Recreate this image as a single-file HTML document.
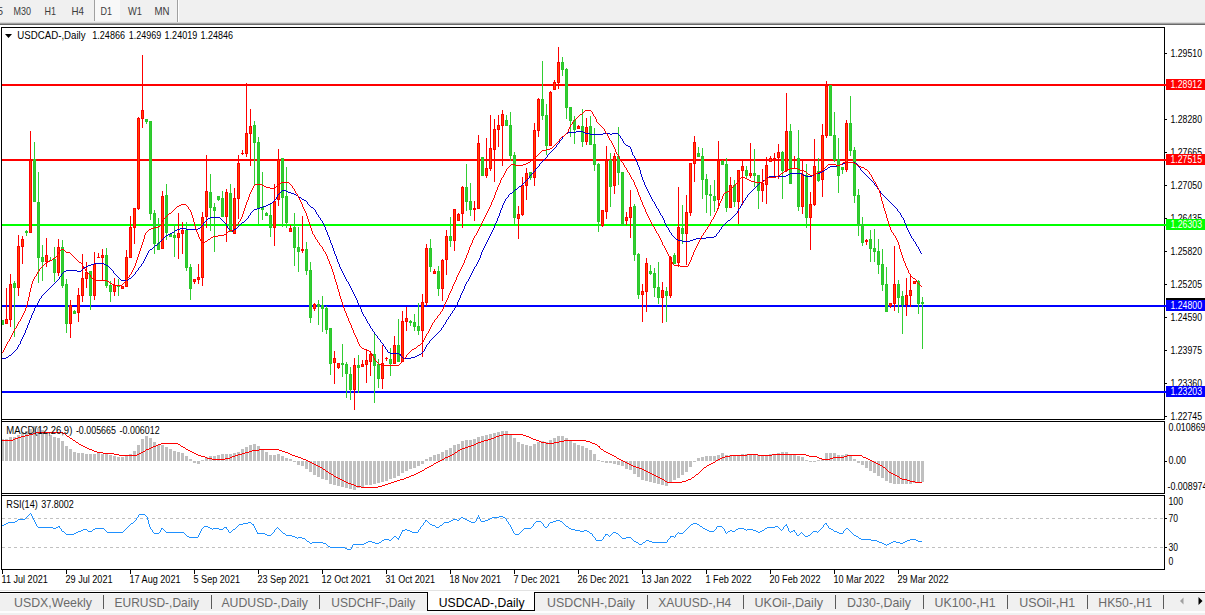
<!DOCTYPE html><html><head><meta charset="utf-8"><title>USDCAD-,Daily</title>
<style>html,body{margin:0;padding:0;background:#fff;overflow:hidden}svg{display:block}text{font-family:"Liberation Sans",sans-serif}</style>
</head><body>
<svg width="1205" height="615" viewBox="0 0 1205 615">
<rect width="1205" height="615" fill="#fff"/>
<g shape-rendering="crispEdges">
<rect x="0" y="0" width="1205" height="23" fill="#f0f0f0"/>
<rect x="0" y="22" width="1205" height="1" fill="#d9d9d9"/>
<rect x="0" y="23" width="1205" height="1" fill="#a0a0a0"/>
<rect x="0" y="24" width="1205" height="1" fill="#696969"/>
<rect x="95" y="0" width="25" height="21" fill="#f8f8f8"/>
<rect x="94" y="0" width="1" height="21" fill="#a0a0a0"/>
<rect x="177" y="0" width="1" height="22" fill="#a0a0a0"/>
<rect x="178" y="0" width="1" height="22" fill="#ffffff"/>
</g>
<text x="-2.5" y="15.2" font-size="10.5" fill="#3c3c3c" text-anchor="start" textLength="5.5" lengthAdjust="spacingAndGlyphs">5</text>
<text x="13.5" y="15.2" font-size="10.5" fill="#3c3c3c" text-anchor="start" textLength="17.5" lengthAdjust="spacingAndGlyphs">M30</text>
<text x="44.5" y="15.2" font-size="10.5" fill="#3c3c3c" text-anchor="start" textLength="11.5" lengthAdjust="spacingAndGlyphs">H1</text>
<text x="71.5" y="15.2" font-size="10.5" fill="#3c3c3c" text-anchor="start" textLength="12.5" lengthAdjust="spacingAndGlyphs">H4</text>
<text x="100.5" y="15.2" font-size="10.5" fill="#3c3c3c" text-anchor="start" textLength="11.5" lengthAdjust="spacingAndGlyphs">D1</text>
<text x="128" y="15.2" font-size="10.5" fill="#3c3c3c" text-anchor="start" textLength="14" lengthAdjust="spacingAndGlyphs">W1</text>
<text x="154.5" y="15.2" font-size="10.5" fill="#3c3c3c" text-anchor="start" textLength="15" lengthAdjust="spacingAndGlyphs">MN</text>
<g shape-rendering="crispEdges" fill="#000">
<rect x="1" y="27" width="1164" height="1"/>
<rect x="1" y="27" width="1" height="543"/>
<rect x="1164" y="27" width="1" height="543"/>
<rect x="1" y="419" width="1164" height="1"/>
<rect x="1" y="420" width="1164" height="1" fill="#fff"/>
<rect x="1" y="421" width="1164" height="1"/>
<rect x="1" y="493" width="1164" height="1"/>
<rect x="1" y="494" width="1164" height="1" fill="#fff"/>
<rect x="1" y="495" width="1164" height="1"/>
<rect x="1" y="569" width="1164" height="1"/>
</g>
<g shape-rendering="crispEdges">
<rect x="2" y="84" width="1164" height="2" fill="#ff0000"/>
<rect x="2" y="159" width="1164" height="2" fill="#ff0000"/>
<rect x="2" y="224" width="1164" height="2" fill="#00ff00"/>
<rect x="2" y="305" width="1164" height="2" fill="#0000ff"/>
<rect x="2" y="391" width="1164" height="2" fill="#0000ff"/>
</g>
<g shape-rendering="crispEdges" stroke="#c0c0c0" stroke-width="1" stroke-dasharray="3,3">
<line x1="2" y1="518.5" x2="1164" y2="518.5"/>
<line x1="2" y1="547.5" x2="1164" y2="547.5"/>
</g>
<g shape-rendering="crispEdges" fill="#c0c0c0">
<rect x="1" y="439" width="3" height="22"/>
<rect x="5" y="439" width="3" height="22"/>
<rect x="9" y="437" width="3" height="24"/>
<rect x="13" y="437" width="3" height="24"/>
<rect x="17" y="435" width="3" height="26"/>
<rect x="21" y="432" width="3" height="29"/>
<rect x="25" y="431" width="3" height="30"/>
<rect x="29" y="429" width="3" height="32"/>
<rect x="33" y="426" width="3" height="35"/>
<rect x="37" y="428" width="3" height="33"/>
<rect x="41" y="430" width="3" height="31"/>
<rect x="45" y="432" width="3" height="29"/>
<rect x="49" y="435" width="3" height="26"/>
<rect x="53" y="437" width="3" height="24"/>
<rect x="57" y="438" width="3" height="23"/>
<rect x="61" y="441" width="3" height="20"/>
<rect x="65" y="446" width="3" height="15"/>
<rect x="69" y="449" width="3" height="12"/>
<rect x="73" y="452" width="3" height="9"/>
<rect x="77" y="453" width="3" height="8"/>
<rect x="81" y="453" width="3" height="8"/>
<rect x="85" y="454" width="3" height="7"/>
<rect x="89" y="454" width="3" height="7"/>
<rect x="93" y="454" width="3" height="7"/>
<rect x="97" y="453" width="3" height="8"/>
<rect x="101" y="454" width="3" height="7"/>
<rect x="105" y="454" width="3" height="7"/>
<rect x="109" y="455" width="3" height="6"/>
<rect x="113" y="456" width="3" height="5"/>
<rect x="117" y="457" width="3" height="4"/>
<rect x="121" y="457" width="3" height="4"/>
<rect x="125" y="456" width="3" height="5"/>
<rect x="129" y="454" width="3" height="7"/>
<rect x="133" y="451" width="3" height="10"/>
<rect x="137" y="445" width="3" height="16"/>
<rect x="141" y="439" width="3" height="22"/>
<rect x="145" y="436" width="3" height="25"/>
<rect x="149" y="438" width="3" height="23"/>
<rect x="153" y="442" width="3" height="19"/>
<rect x="157" y="445" width="3" height="16"/>
<rect x="161" y="445" width="3" height="16"/>
<rect x="165" y="447" width="3" height="14"/>
<rect x="169" y="449" width="3" height="12"/>
<rect x="173" y="451" width="3" height="10"/>
<rect x="177" y="452" width="3" height="9"/>
<rect x="181" y="453" width="3" height="8"/>
<rect x="185" y="456" width="3" height="5"/>
<rect x="189" y="459" width="3" height="2"/>
<rect x="193" y="461" width="3" height="2"/>
<rect x="197" y="461" width="3" height="3"/>
<rect x="201" y="460" width="3" height="1"/>
<rect x="205" y="457" width="3" height="4"/>
<rect x="209" y="456" width="3" height="5"/>
<rect x="213" y="456" width="3" height="5"/>
<rect x="217" y="455" width="3" height="6"/>
<rect x="221" y="454" width="3" height="7"/>
<rect x="225" y="454" width="3" height="7"/>
<rect x="229" y="454" width="3" height="7"/>
<rect x="233" y="453" width="3" height="8"/>
<rect x="237" y="452" width="3" height="9"/>
<rect x="241" y="449" width="3" height="12"/>
<rect x="245" y="447" width="3" height="14"/>
<rect x="249" y="445" width="3" height="16"/>
<rect x="253" y="444" width="3" height="17"/>
<rect x="257" y="446" width="3" height="15"/>
<rect x="261" y="450" width="3" height="11"/>
<rect x="265" y="452" width="3" height="9"/>
<rect x="269" y="455" width="3" height="6"/>
<rect x="273" y="455" width="3" height="6"/>
<rect x="277" y="454" width="3" height="7"/>
<rect x="281" y="456" width="3" height="5"/>
<rect x="285" y="458" width="3" height="3"/>
<rect x="289" y="459" width="3" height="2"/>
<rect x="293" y="461" width="3" height="1"/>
<rect x="297" y="461" width="3" height="4"/>
<rect x="301" y="461" width="3" height="5"/>
<rect x="305" y="461" width="3" height="8"/>
<rect x="309" y="461" width="3" height="11"/>
<rect x="313" y="461" width="3" height="14"/>
<rect x="317" y="461" width="3" height="16"/>
<rect x="321" y="461" width="3" height="18"/>
<rect x="325" y="461" width="3" height="19"/>
<rect x="329" y="461" width="3" height="23"/>
<rect x="333" y="461" width="3" height="24"/>
<rect x="337" y="461" width="3" height="25"/>
<rect x="341" y="461" width="3" height="26"/>
<rect x="345" y="461" width="3" height="27"/>
<rect x="349" y="461" width="3" height="28"/>
<rect x="353" y="461" width="3" height="29"/>
<rect x="357" y="461" width="3" height="27"/>
<rect x="361" y="461" width="3" height="26"/>
<rect x="365" y="461" width="3" height="24"/>
<rect x="369" y="461" width="3" height="24"/>
<rect x="373" y="461" width="3" height="23"/>
<rect x="377" y="461" width="3" height="22"/>
<rect x="381" y="461" width="3" height="21"/>
<rect x="385" y="461" width="3" height="20"/>
<rect x="389" y="461" width="3" height="18"/>
<rect x="393" y="461" width="3" height="17"/>
<rect x="397" y="461" width="3" height="15"/>
<rect x="401" y="461" width="3" height="12"/>
<rect x="405" y="461" width="3" height="10"/>
<rect x="409" y="461" width="3" height="8"/>
<rect x="413" y="461" width="3" height="7"/>
<rect x="417" y="461" width="3" height="5"/>
<rect x="421" y="461" width="3" height="3"/>
<rect x="425" y="459" width="3" height="2"/>
<rect x="429" y="457" width="3" height="4"/>
<rect x="433" y="455" width="3" height="6"/>
<rect x="437" y="454" width="3" height="7"/>
<rect x="441" y="452" width="3" height="9"/>
<rect x="445" y="450" width="3" height="11"/>
<rect x="449" y="448" width="3" height="13"/>
<rect x="453" y="445" width="3" height="16"/>
<rect x="457" y="444" width="3" height="17"/>
<rect x="461" y="441" width="3" height="20"/>
<rect x="465" y="440" width="3" height="21"/>
<rect x="469" y="440" width="3" height="21"/>
<rect x="473" y="439" width="3" height="22"/>
<rect x="477" y="437" width="3" height="24"/>
<rect x="481" y="436" width="3" height="25"/>
<rect x="485" y="435" width="3" height="26"/>
<rect x="489" y="434" width="3" height="27"/>
<rect x="493" y="433" width="3" height="28"/>
<rect x="497" y="432" width="3" height="29"/>
<rect x="501" y="431" width="3" height="30"/>
<rect x="505" y="431" width="3" height="30"/>
<rect x="509" y="434" width="3" height="27"/>
<rect x="513" y="438" width="3" height="23"/>
<rect x="517" y="442" width="3" height="19"/>
<rect x="521" y="444" width="3" height="17"/>
<rect x="525" y="445" width="3" height="16"/>
<rect x="529" y="446" width="3" height="15"/>
<rect x="533" y="444" width="3" height="17"/>
<rect x="537" y="442" width="3" height="19"/>
<rect x="541" y="441" width="3" height="20"/>
<rect x="545" y="442" width="3" height="19"/>
<rect x="549" y="440" width="3" height="21"/>
<rect x="553" y="438" width="3" height="23"/>
<rect x="557" y="436" width="3" height="25"/>
<rect x="561" y="436" width="3" height="25"/>
<rect x="565" y="438" width="3" height="23"/>
<rect x="569" y="441" width="3" height="20"/>
<rect x="573" y="443" width="3" height="18"/>
<rect x="577" y="445" width="3" height="16"/>
<rect x="581" y="446" width="3" height="15"/>
<rect x="585" y="448" width="3" height="13"/>
<rect x="589" y="450" width="3" height="11"/>
<rect x="593" y="454" width="3" height="7"/>
<rect x="597" y="460" width="3" height="1"/>
<rect x="601" y="461" width="3" height="1"/>
<rect x="605" y="461" width="3" height="2"/>
<rect x="609" y="461" width="3" height="2"/>
<rect x="613" y="461" width="3" height="3"/>
<rect x="617" y="461" width="3" height="4"/>
<rect x="621" y="461" width="3" height="5"/>
<rect x="625" y="461" width="3" height="8"/>
<rect x="629" y="461" width="3" height="9"/>
<rect x="633" y="461" width="3" height="13"/>
<rect x="637" y="461" width="3" height="16"/>
<rect x="641" y="461" width="3" height="19"/>
<rect x="645" y="461" width="3" height="20"/>
<rect x="649" y="461" width="3" height="21"/>
<rect x="653" y="461" width="3" height="22"/>
<rect x="657" y="461" width="3" height="23"/>
<rect x="661" y="461" width="3" height="24"/>
<rect x="665" y="461" width="3" height="25"/>
<rect x="669" y="461" width="3" height="21"/>
<rect x="673" y="461" width="3" height="19"/>
<rect x="677" y="461" width="3" height="17"/>
<rect x="681" y="461" width="3" height="14"/>
<rect x="685" y="461" width="3" height="11"/>
<rect x="689" y="461" width="3" height="6"/>
<rect x="693" y="461" width="3" height="1"/>
<rect x="697" y="458" width="3" height="3"/>
<rect x="701" y="457" width="3" height="4"/>
<rect x="705" y="456" width="3" height="5"/>
<rect x="709" y="456" width="3" height="5"/>
<rect x="713" y="456" width="3" height="5"/>
<rect x="717" y="455" width="3" height="6"/>
<rect x="721" y="453" width="3" height="8"/>
<rect x="725" y="455" width="3" height="6"/>
<rect x="729" y="455" width="3" height="6"/>
<rect x="733" y="455" width="3" height="6"/>
<rect x="737" y="455" width="3" height="6"/>
<rect x="741" y="454" width="3" height="7"/>
<rect x="745" y="454" width="3" height="7"/>
<rect x="749" y="454" width="3" height="7"/>
<rect x="753" y="454" width="3" height="7"/>
<rect x="757" y="455" width="3" height="6"/>
<rect x="761" y="455" width="3" height="6"/>
<rect x="765" y="455" width="3" height="6"/>
<rect x="769" y="454" width="3" height="7"/>
<rect x="773" y="454" width="3" height="7"/>
<rect x="777" y="453" width="3" height="8"/>
<rect x="781" y="452" width="3" height="9"/>
<rect x="785" y="452" width="3" height="9"/>
<rect x="789" y="454" width="3" height="7"/>
<rect x="793" y="455" width="3" height="6"/>
<rect x="797" y="456" width="3" height="5"/>
<rect x="801" y="457" width="3" height="4"/>
<rect x="805" y="460" width="3" height="1"/>
<rect x="809" y="461" width="3" height="1"/>
<rect x="813" y="461" width="3" height="1"/>
<rect x="817" y="460" width="3" height="1"/>
<rect x="821" y="459" width="3" height="2"/>
<rect x="825" y="453" width="3" height="8"/>
<rect x="829" y="453" width="3" height="8"/>
<rect x="833" y="453" width="3" height="8"/>
<rect x="837" y="455" width="3" height="6"/>
<rect x="841" y="455" width="3" height="6"/>
<rect x="845" y="454" width="3" height="7"/>
<rect x="849" y="455" width="3" height="6"/>
<rect x="853" y="459" width="3" height="2"/>
<rect x="857" y="461" width="3" height="2"/>
<rect x="861" y="461" width="3" height="4"/>
<rect x="865" y="461" width="3" height="7"/>
<rect x="869" y="461" width="3" height="10"/>
<rect x="873" y="461" width="3" height="12"/>
<rect x="877" y="461" width="3" height="15"/>
<rect x="881" y="461" width="3" height="17"/>
<rect x="885" y="461" width="3" height="20"/>
<rect x="889" y="461" width="3" height="22"/>
<rect x="893" y="461" width="3" height="23"/>
<rect x="897" y="461" width="3" height="23"/>
<rect x="901" y="461" width="3" height="23"/>
<rect x="905" y="461" width="3" height="23"/>
<rect x="909" y="461" width="3" height="23"/>
<rect x="913" y="461" width="3" height="22"/>
<rect x="917" y="461" width="3" height="21"/>
<rect x="921" y="461" width="3" height="21"/>
</g>
<g shape-rendering="crispEdges">
<rect x="2" y="320" width="1" height="5" fill="#32cd32"/>
<rect x="1" y="320" width="3" height="5" fill="#2ac82a"/>
<rect x="2" y="321" width="1" height="3" fill="#32cd32"/>
<rect x="6" y="288" width="1" height="36" fill="#ff0000"/>
<rect x="5" y="319" width="3" height="5" fill="#ff0000"/>
<rect x="6" y="320" width="1" height="3" fill="#ff4500"/>
<rect x="10" y="274" width="1" height="53" fill="#ff0000"/>
<rect x="9" y="284" width="3" height="36" fill="#ff0000"/>
<rect x="10" y="285" width="1" height="34" fill="#ff4500"/>
<rect x="14" y="281" width="1" height="56" fill="#32cd32"/>
<rect x="13" y="283" width="3" height="5" fill="#2ac82a"/>
<rect x="14" y="284" width="1" height="3" fill="#32cd32"/>
<rect x="18" y="235" width="1" height="61" fill="#ff0000"/>
<rect x="17" y="246" width="3" height="42" fill="#ff0000"/>
<rect x="18" y="247" width="1" height="40" fill="#ff4500"/>
<rect x="22" y="236" width="1" height="28" fill="#ff0000"/>
<rect x="21" y="239" width="3" height="8" fill="#ff0000"/>
<rect x="22" y="240" width="1" height="6" fill="#ff4500"/>
<rect x="26" y="230" width="1" height="6" fill="#32cd32"/>
<rect x="25" y="231" width="3" height="2" fill="#2ac82a"/>
<rect x="30" y="131" width="1" height="102" fill="#ff0000"/>
<rect x="29" y="160" width="3" height="73" fill="#ff0000"/>
<rect x="30" y="161" width="1" height="71" fill="#ff4500"/>
<rect x="34" y="142" width="1" height="60" fill="#32cd32"/>
<rect x="33" y="159" width="3" height="43" fill="#2ac82a"/>
<rect x="34" y="160" width="1" height="41" fill="#32cd32"/>
<rect x="38" y="172" width="1" height="111" fill="#32cd32"/>
<rect x="37" y="202" width="3" height="56" fill="#2ac82a"/>
<rect x="38" y="203" width="1" height="54" fill="#32cd32"/>
<rect x="42" y="245" width="1" height="36" fill="#32cd32"/>
<rect x="41" y="257" width="3" height="5" fill="#2ac82a"/>
<rect x="42" y="258" width="1" height="3" fill="#32cd32"/>
<rect x="46" y="238" width="1" height="29" fill="#ff0000"/>
<rect x="45" y="255" width="3" height="7" fill="#ff0000"/>
<rect x="46" y="256" width="1" height="5" fill="#ff4500"/>
<rect x="50" y="257" width="1" height="4" fill="#32cd32"/>
<rect x="49" y="260" width="3" height="1" fill="#2ac82a"/>
<rect x="54" y="247" width="1" height="35" fill="#32cd32"/>
<rect x="53" y="259" width="3" height="14" fill="#2ac82a"/>
<rect x="54" y="260" width="1" height="12" fill="#32cd32"/>
<rect x="58" y="239" width="1" height="37" fill="#ff0000"/>
<rect x="57" y="247" width="3" height="26" fill="#ff0000"/>
<rect x="58" y="248" width="1" height="24" fill="#ff4500"/>
<rect x="62" y="240" width="1" height="48" fill="#32cd32"/>
<rect x="61" y="247" width="3" height="39" fill="#2ac82a"/>
<rect x="62" y="248" width="1" height="37" fill="#32cd32"/>
<rect x="66" y="279" width="1" height="54" fill="#32cd32"/>
<rect x="65" y="284" width="3" height="40" fill="#2ac82a"/>
<rect x="66" y="285" width="1" height="38" fill="#32cd32"/>
<rect x="70" y="300" width="1" height="38" fill="#ff0000"/>
<rect x="69" y="305" width="3" height="19" fill="#ff0000"/>
<rect x="70" y="306" width="1" height="17" fill="#ff4500"/>
<rect x="74" y="310" width="1" height="4" fill="#32cd32"/>
<rect x="73" y="311" width="3" height="3" fill="#2ac82a"/>
<rect x="74" y="312" width="1" height="1" fill="#32cd32"/>
<rect x="78" y="288" width="1" height="34" fill="#ff0000"/>
<rect x="77" y="295" width="3" height="18" fill="#ff0000"/>
<rect x="78" y="296" width="1" height="16" fill="#ff4500"/>
<rect x="82" y="254" width="1" height="48" fill="#ff0000"/>
<rect x="81" y="278" width="3" height="18" fill="#ff0000"/>
<rect x="82" y="279" width="1" height="16" fill="#ff4500"/>
<rect x="86" y="262" width="1" height="26" fill="#ff0000"/>
<rect x="85" y="272" width="3" height="7" fill="#ff0000"/>
<rect x="86" y="273" width="1" height="5" fill="#ff4500"/>
<rect x="90" y="271" width="1" height="39" fill="#32cd32"/>
<rect x="89" y="271" width="3" height="25" fill="#2ac82a"/>
<rect x="90" y="272" width="1" height="23" fill="#32cd32"/>
<rect x="94" y="252" width="1" height="48" fill="#ff0000"/>
<rect x="93" y="264" width="3" height="32" fill="#ff0000"/>
<rect x="94" y="265" width="1" height="30" fill="#ff4500"/>
<rect x="98" y="253" width="1" height="5" fill="#ff0000"/>
<rect x="97" y="257" width="3" height="1" fill="#ff0000"/>
<rect x="102" y="249" width="1" height="31" fill="#ff0000"/>
<rect x="101" y="255" width="3" height="3" fill="#ff0000"/>
<rect x="102" y="256" width="1" height="1" fill="#ff4500"/>
<rect x="106" y="248" width="1" height="40" fill="#32cd32"/>
<rect x="105" y="255" width="3" height="31" fill="#2ac82a"/>
<rect x="106" y="256" width="1" height="29" fill="#32cd32"/>
<rect x="110" y="281" width="1" height="21" fill="#32cd32"/>
<rect x="109" y="285" width="3" height="7" fill="#2ac82a"/>
<rect x="110" y="286" width="1" height="5" fill="#32cd32"/>
<rect x="114" y="278" width="1" height="18" fill="#ff0000"/>
<rect x="113" y="285" width="3" height="7" fill="#ff0000"/>
<rect x="114" y="286" width="1" height="5" fill="#ff4500"/>
<rect x="118" y="279" width="1" height="17" fill="#32cd32"/>
<rect x="117" y="285" width="3" height="2" fill="#2ac82a"/>
<rect x="122" y="286" width="1" height="3" fill="#ff0000"/>
<rect x="121" y="286" width="3" height="3" fill="#ff0000"/>
<rect x="122" y="287" width="1" height="1" fill="#ff4500"/>
<rect x="126" y="250" width="1" height="37" fill="#ff0000"/>
<rect x="125" y="257" width="3" height="30" fill="#ff0000"/>
<rect x="126" y="258" width="1" height="28" fill="#ff4500"/>
<rect x="130" y="216" width="1" height="42" fill="#ff0000"/>
<rect x="129" y="227" width="3" height="31" fill="#ff0000"/>
<rect x="130" y="228" width="1" height="29" fill="#ff4500"/>
<rect x="134" y="208" width="1" height="36" fill="#ff0000"/>
<rect x="133" y="208" width="3" height="20" fill="#ff0000"/>
<rect x="134" y="209" width="1" height="18" fill="#ff4500"/>
<rect x="138" y="117" width="1" height="93" fill="#ff0000"/>
<rect x="137" y="118" width="3" height="91" fill="#ff0000"/>
<rect x="138" y="119" width="1" height="89" fill="#ff4500"/>
<rect x="142" y="55" width="1" height="73" fill="#ff0000"/>
<rect x="141" y="110" width="3" height="9" fill="#ff0000"/>
<rect x="142" y="111" width="1" height="7" fill="#ff4500"/>
<rect x="146" y="119" width="1" height="5" fill="#32cd32"/>
<rect x="145" y="119" width="3" height="3" fill="#2ac82a"/>
<rect x="146" y="120" width="1" height="1" fill="#32cd32"/>
<rect x="150" y="121" width="1" height="99" fill="#32cd32"/>
<rect x="149" y="121" width="3" height="93" fill="#2ac82a"/>
<rect x="150" y="122" width="1" height="91" fill="#32cd32"/>
<rect x="154" y="210" width="1" height="44" fill="#32cd32"/>
<rect x="153" y="213" width="3" height="31" fill="#2ac82a"/>
<rect x="154" y="214" width="1" height="29" fill="#32cd32"/>
<rect x="158" y="218" width="1" height="32" fill="#32cd32"/>
<rect x="157" y="243" width="3" height="7" fill="#2ac82a"/>
<rect x="158" y="244" width="1" height="5" fill="#32cd32"/>
<rect x="162" y="191" width="1" height="58" fill="#ff0000"/>
<rect x="161" y="196" width="3" height="53" fill="#ff0000"/>
<rect x="162" y="197" width="1" height="51" fill="#ff4500"/>
<rect x="166" y="184" width="1" height="56" fill="#32cd32"/>
<rect x="165" y="195" width="3" height="38" fill="#2ac82a"/>
<rect x="166" y="196" width="1" height="36" fill="#32cd32"/>
<rect x="170" y="234" width="1" height="3" fill="#32cd32"/>
<rect x="169" y="234" width="3" height="3" fill="#2ac82a"/>
<rect x="170" y="235" width="1" height="1" fill="#32cd32"/>
<rect x="174" y="224" width="1" height="33" fill="#32cd32"/>
<rect x="173" y="235" width="3" height="3" fill="#2ac82a"/>
<rect x="174" y="236" width="1" height="1" fill="#32cd32"/>
<rect x="178" y="213" width="1" height="46" fill="#ff0000"/>
<rect x="177" y="233" width="3" height="5" fill="#ff0000"/>
<rect x="178" y="234" width="1" height="3" fill="#ff4500"/>
<rect x="182" y="222" width="1" height="32" fill="#ff0000"/>
<rect x="181" y="230" width="3" height="4" fill="#ff0000"/>
<rect x="182" y="231" width="1" height="2" fill="#ff4500"/>
<rect x="186" y="222" width="1" height="49" fill="#32cd32"/>
<rect x="185" y="230" width="3" height="38" fill="#2ac82a"/>
<rect x="186" y="231" width="1" height="36" fill="#32cd32"/>
<rect x="190" y="264" width="1" height="36" fill="#32cd32"/>
<rect x="189" y="267" width="3" height="22" fill="#2ac82a"/>
<rect x="190" y="268" width="1" height="20" fill="#32cd32"/>
<rect x="194" y="279" width="1" height="5" fill="#ff0000"/>
<rect x="193" y="279" width="3" height="3" fill="#ff0000"/>
<rect x="194" y="280" width="1" height="1" fill="#ff4500"/>
<rect x="198" y="264" width="1" height="20" fill="#ff0000"/>
<rect x="197" y="277" width="3" height="3" fill="#ff0000"/>
<rect x="198" y="278" width="1" height="1" fill="#ff4500"/>
<rect x="202" y="212" width="1" height="74" fill="#ff0000"/>
<rect x="201" y="217" width="3" height="61" fill="#ff0000"/>
<rect x="202" y="218" width="1" height="59" fill="#ff4500"/>
<rect x="206" y="155" width="1" height="73" fill="#ff0000"/>
<rect x="205" y="191" width="3" height="26" fill="#ff0000"/>
<rect x="206" y="192" width="1" height="24" fill="#ff4500"/>
<rect x="210" y="174" width="1" height="57" fill="#32cd32"/>
<rect x="209" y="192" width="3" height="16" fill="#2ac82a"/>
<rect x="210" y="193" width="1" height="14" fill="#32cd32"/>
<rect x="214" y="203" width="1" height="49" fill="#32cd32"/>
<rect x="213" y="207" width="3" height="4" fill="#2ac82a"/>
<rect x="214" y="208" width="1" height="2" fill="#32cd32"/>
<rect x="218" y="196" width="1" height="5" fill="#32cd32"/>
<rect x="217" y="196" width="3" height="4" fill="#2ac82a"/>
<rect x="218" y="197" width="1" height="2" fill="#32cd32"/>
<rect x="222" y="191" width="1" height="26" fill="#32cd32"/>
<rect x="221" y="198" width="3" height="19" fill="#2ac82a"/>
<rect x="222" y="199" width="1" height="17" fill="#32cd32"/>
<rect x="226" y="189" width="1" height="53" fill="#ff0000"/>
<rect x="225" y="192" width="3" height="25" fill="#ff0000"/>
<rect x="226" y="193" width="1" height="23" fill="#ff4500"/>
<rect x="230" y="184" width="1" height="48" fill="#32cd32"/>
<rect x="229" y="193" width="3" height="39" fill="#2ac82a"/>
<rect x="230" y="194" width="1" height="37" fill="#32cd32"/>
<rect x="234" y="188" width="1" height="46" fill="#ff0000"/>
<rect x="233" y="198" width="3" height="36" fill="#ff0000"/>
<rect x="234" y="199" width="1" height="34" fill="#ff4500"/>
<rect x="238" y="155" width="1" height="64" fill="#ff0000"/>
<rect x="237" y="163" width="3" height="36" fill="#ff0000"/>
<rect x="238" y="164" width="1" height="34" fill="#ff4500"/>
<rect x="242" y="150" width="1" height="5" fill="#ff0000"/>
<rect x="241" y="153" width="3" height="1" fill="#ff0000"/>
<rect x="246" y="83" width="1" height="74" fill="#ff0000"/>
<rect x="245" y="133" width="3" height="21" fill="#ff0000"/>
<rect x="246" y="134" width="1" height="19" fill="#ff4500"/>
<rect x="250" y="109" width="1" height="57" fill="#ff0000"/>
<rect x="249" y="126" width="3" height="8" fill="#ff0000"/>
<rect x="250" y="127" width="1" height="6" fill="#ff4500"/>
<rect x="254" y="121" width="1" height="64" fill="#32cd32"/>
<rect x="253" y="125" width="3" height="18" fill="#2ac82a"/>
<rect x="254" y="126" width="1" height="16" fill="#32cd32"/>
<rect x="258" y="137" width="1" height="87" fill="#32cd32"/>
<rect x="257" y="142" width="3" height="67" fill="#2ac82a"/>
<rect x="258" y="143" width="1" height="65" fill="#32cd32"/>
<rect x="262" y="172" width="1" height="48" fill="#32cd32"/>
<rect x="261" y="207" width="3" height="3" fill="#2ac82a"/>
<rect x="262" y="208" width="1" height="1" fill="#32cd32"/>
<rect x="266" y="212" width="1" height="4" fill="#32cd32"/>
<rect x="265" y="213" width="3" height="3" fill="#2ac82a"/>
<rect x="266" y="214" width="1" height="1" fill="#32cd32"/>
<rect x="270" y="204" width="1" height="33" fill="#32cd32"/>
<rect x="269" y="215" width="3" height="13" fill="#2ac82a"/>
<rect x="270" y="216" width="1" height="11" fill="#32cd32"/>
<rect x="274" y="184" width="1" height="62" fill="#ff0000"/>
<rect x="273" y="201" width="3" height="27" fill="#ff0000"/>
<rect x="274" y="202" width="1" height="25" fill="#ff4500"/>
<rect x="278" y="149" width="1" height="57" fill="#ff0000"/>
<rect x="277" y="159" width="3" height="41" fill="#ff0000"/>
<rect x="278" y="160" width="1" height="39" fill="#ff4500"/>
<rect x="282" y="158" width="1" height="69" fill="#32cd32"/>
<rect x="281" y="158" width="3" height="40" fill="#2ac82a"/>
<rect x="282" y="159" width="1" height="38" fill="#32cd32"/>
<rect x="286" y="167" width="1" height="61" fill="#32cd32"/>
<rect x="285" y="196" width="3" height="27" fill="#2ac82a"/>
<rect x="286" y="197" width="1" height="25" fill="#32cd32"/>
<rect x="290" y="225" width="1" height="7" fill="#ff0000"/>
<rect x="289" y="228" width="3" height="4" fill="#ff0000"/>
<rect x="290" y="229" width="1" height="2" fill="#ff4500"/>
<rect x="294" y="213" width="1" height="53" fill="#32cd32"/>
<rect x="293" y="227" width="3" height="21" fill="#2ac82a"/>
<rect x="294" y="228" width="1" height="19" fill="#32cd32"/>
<rect x="298" y="227" width="1" height="45" fill="#32cd32"/>
<rect x="297" y="247" width="3" height="5" fill="#2ac82a"/>
<rect x="298" y="248" width="1" height="3" fill="#32cd32"/>
<rect x="302" y="216" width="1" height="37" fill="#ff0000"/>
<rect x="301" y="249" width="3" height="2" fill="#ff0000"/>
<rect x="306" y="242" width="1" height="33" fill="#32cd32"/>
<rect x="305" y="249" width="3" height="22" fill="#2ac82a"/>
<rect x="306" y="250" width="1" height="20" fill="#32cd32"/>
<rect x="310" y="262" width="1" height="61" fill="#32cd32"/>
<rect x="309" y="270" width="3" height="48" fill="#2ac82a"/>
<rect x="310" y="271" width="1" height="46" fill="#32cd32"/>
<rect x="314" y="303" width="1" height="8" fill="#ff0000"/>
<rect x="313" y="304" width="3" height="5" fill="#ff0000"/>
<rect x="314" y="305" width="1" height="3" fill="#ff4500"/>
<rect x="318" y="300" width="1" height="25" fill="#32cd32"/>
<rect x="317" y="304" width="3" height="3" fill="#2ac82a"/>
<rect x="318" y="305" width="1" height="1" fill="#32cd32"/>
<rect x="322" y="296" width="1" height="36" fill="#32cd32"/>
<rect x="321" y="305" width="3" height="4" fill="#2ac82a"/>
<rect x="322" y="306" width="1" height="2" fill="#32cd32"/>
<rect x="326" y="306" width="1" height="28" fill="#32cd32"/>
<rect x="325" y="308" width="3" height="22" fill="#2ac82a"/>
<rect x="326" y="309" width="1" height="20" fill="#32cd32"/>
<rect x="330" y="328" width="1" height="47" fill="#32cd32"/>
<rect x="329" y="328" width="3" height="36" fill="#2ac82a"/>
<rect x="330" y="329" width="1" height="34" fill="#32cd32"/>
<rect x="334" y="351" width="1" height="33" fill="#ff0000"/>
<rect x="333" y="358" width="3" height="5" fill="#ff0000"/>
<rect x="334" y="359" width="1" height="3" fill="#ff4500"/>
<rect x="338" y="363" width="1" height="6" fill="#ff0000"/>
<rect x="337" y="363" width="3" height="5" fill="#ff0000"/>
<rect x="338" y="364" width="1" height="3" fill="#ff4500"/>
<rect x="342" y="344" width="1" height="33" fill="#32cd32"/>
<rect x="341" y="363" width="3" height="2" fill="#2ac82a"/>
<rect x="346" y="362" width="1" height="36" fill="#32cd32"/>
<rect x="345" y="364" width="3" height="10" fill="#2ac82a"/>
<rect x="346" y="365" width="1" height="8" fill="#32cd32"/>
<rect x="350" y="367" width="1" height="33" fill="#32cd32"/>
<rect x="349" y="374" width="3" height="16" fill="#2ac82a"/>
<rect x="350" y="375" width="1" height="14" fill="#32cd32"/>
<rect x="354" y="358" width="1" height="52" fill="#ff0000"/>
<rect x="353" y="365" width="3" height="25" fill="#ff0000"/>
<rect x="354" y="366" width="1" height="23" fill="#ff4500"/>
<rect x="358" y="355" width="1" height="38" fill="#32cd32"/>
<rect x="357" y="365" width="3" height="3" fill="#2ac82a"/>
<rect x="358" y="366" width="1" height="1" fill="#32cd32"/>
<rect x="362" y="360" width="1" height="7" fill="#ff0000"/>
<rect x="361" y="364" width="3" height="3" fill="#ff0000"/>
<rect x="362" y="365" width="1" height="1" fill="#ff4500"/>
<rect x="366" y="349" width="1" height="34" fill="#ff0000"/>
<rect x="365" y="360" width="3" height="5" fill="#ff0000"/>
<rect x="366" y="361" width="1" height="3" fill="#ff4500"/>
<rect x="370" y="351" width="1" height="25" fill="#ff0000"/>
<rect x="369" y="354" width="3" height="8" fill="#ff0000"/>
<rect x="370" y="355" width="1" height="6" fill="#ff4500"/>
<rect x="374" y="332" width="1" height="71" fill="#32cd32"/>
<rect x="373" y="354" width="3" height="12" fill="#2ac82a"/>
<rect x="374" y="355" width="1" height="10" fill="#32cd32"/>
<rect x="378" y="359" width="1" height="29" fill="#32cd32"/>
<rect x="377" y="364" width="3" height="15" fill="#2ac82a"/>
<rect x="378" y="365" width="1" height="13" fill="#32cd32"/>
<rect x="382" y="345" width="1" height="44" fill="#ff0000"/>
<rect x="381" y="363" width="3" height="16" fill="#ff0000"/>
<rect x="382" y="364" width="1" height="14" fill="#ff4500"/>
<rect x="386" y="357" width="1" height="4" fill="#ff0000"/>
<rect x="385" y="358" width="3" height="1" fill="#ff0000"/>
<rect x="390" y="348" width="1" height="28" fill="#32cd32"/>
<rect x="389" y="359" width="3" height="5" fill="#2ac82a"/>
<rect x="390" y="360" width="1" height="3" fill="#32cd32"/>
<rect x="394" y="336" width="1" height="28" fill="#ff0000"/>
<rect x="393" y="345" width="3" height="19" fill="#ff0000"/>
<rect x="394" y="346" width="1" height="17" fill="#ff4500"/>
<rect x="398" y="319" width="1" height="43" fill="#32cd32"/>
<rect x="397" y="345" width="3" height="17" fill="#2ac82a"/>
<rect x="398" y="346" width="1" height="15" fill="#32cd32"/>
<rect x="402" y="311" width="1" height="51" fill="#ff0000"/>
<rect x="401" y="321" width="3" height="41" fill="#ff0000"/>
<rect x="402" y="322" width="1" height="39" fill="#ff4500"/>
<rect x="406" y="307" width="1" height="24" fill="#ff0000"/>
<rect x="405" y="318" width="3" height="4" fill="#ff0000"/>
<rect x="406" y="319" width="1" height="2" fill="#ff4500"/>
<rect x="410" y="320" width="1" height="6" fill="#32cd32"/>
<rect x="409" y="321" width="3" height="2" fill="#2ac82a"/>
<rect x="414" y="314" width="1" height="17" fill="#32cd32"/>
<rect x="413" y="322" width="3" height="5" fill="#2ac82a"/>
<rect x="414" y="323" width="1" height="3" fill="#32cd32"/>
<rect x="418" y="303" width="1" height="32" fill="#32cd32"/>
<rect x="417" y="326" width="3" height="5" fill="#2ac82a"/>
<rect x="418" y="327" width="1" height="3" fill="#32cd32"/>
<rect x="422" y="294" width="1" height="63" fill="#ff0000"/>
<rect x="421" y="302" width="3" height="29" fill="#ff0000"/>
<rect x="422" y="303" width="1" height="27" fill="#ff4500"/>
<rect x="426" y="244" width="1" height="62" fill="#ff0000"/>
<rect x="425" y="248" width="3" height="55" fill="#ff0000"/>
<rect x="426" y="249" width="1" height="53" fill="#ff4500"/>
<rect x="430" y="239" width="1" height="33" fill="#32cd32"/>
<rect x="429" y="248" width="3" height="19" fill="#2ac82a"/>
<rect x="430" y="249" width="1" height="17" fill="#32cd32"/>
<rect x="434" y="269" width="1" height="5" fill="#ff0000"/>
<rect x="433" y="271" width="3" height="3" fill="#ff0000"/>
<rect x="434" y="272" width="1" height="1" fill="#ff4500"/>
<rect x="438" y="266" width="1" height="30" fill="#32cd32"/>
<rect x="437" y="271" width="3" height="18" fill="#2ac82a"/>
<rect x="438" y="272" width="1" height="16" fill="#32cd32"/>
<rect x="442" y="259" width="1" height="42" fill="#ff0000"/>
<rect x="441" y="260" width="3" height="29" fill="#ff0000"/>
<rect x="442" y="261" width="1" height="27" fill="#ff4500"/>
<rect x="446" y="230" width="1" height="45" fill="#ff0000"/>
<rect x="445" y="236" width="3" height="24" fill="#ff0000"/>
<rect x="446" y="237" width="1" height="22" fill="#ff4500"/>
<rect x="450" y="217" width="1" height="30" fill="#32cd32"/>
<rect x="449" y="236" width="3" height="5" fill="#2ac82a"/>
<rect x="450" y="237" width="1" height="3" fill="#32cd32"/>
<rect x="454" y="209" width="1" height="42" fill="#ff0000"/>
<rect x="453" y="209" width="3" height="32" fill="#ff0000"/>
<rect x="454" y="210" width="1" height="30" fill="#ff4500"/>
<rect x="458" y="213" width="1" height="8" fill="#ff0000"/>
<rect x="457" y="214" width="3" height="7" fill="#ff0000"/>
<rect x="458" y="215" width="1" height="5" fill="#ff4500"/>
<rect x="462" y="186" width="1" height="42" fill="#ff0000"/>
<rect x="461" y="187" width="3" height="27" fill="#ff0000"/>
<rect x="462" y="188" width="1" height="25" fill="#ff4500"/>
<rect x="466" y="164" width="1" height="47" fill="#32cd32"/>
<rect x="465" y="187" width="3" height="15" fill="#2ac82a"/>
<rect x="466" y="188" width="1" height="13" fill="#32cd32"/>
<rect x="470" y="183" width="1" height="33" fill="#32cd32"/>
<rect x="469" y="201" width="3" height="9" fill="#2ac82a"/>
<rect x="470" y="202" width="1" height="7" fill="#32cd32"/>
<rect x="474" y="201" width="1" height="20" fill="#ff0000"/>
<rect x="473" y="208" width="3" height="2" fill="#ff0000"/>
<rect x="478" y="135" width="1" height="74" fill="#ff0000"/>
<rect x="477" y="143" width="3" height="66" fill="#ff0000"/>
<rect x="478" y="144" width="1" height="64" fill="#ff4500"/>
<rect x="482" y="157" width="1" height="19" fill="#32cd32"/>
<rect x="481" y="157" width="3" height="19" fill="#2ac82a"/>
<rect x="482" y="158" width="1" height="17" fill="#32cd32"/>
<rect x="486" y="138" width="1" height="40" fill="#ff0000"/>
<rect x="485" y="168" width="3" height="8" fill="#ff0000"/>
<rect x="486" y="169" width="1" height="6" fill="#ff4500"/>
<rect x="490" y="115" width="1" height="56" fill="#ff0000"/>
<rect x="489" y="148" width="3" height="21" fill="#ff0000"/>
<rect x="490" y="149" width="1" height="19" fill="#ff4500"/>
<rect x="494" y="119" width="1" height="63" fill="#ff0000"/>
<rect x="493" y="129" width="3" height="21" fill="#ff0000"/>
<rect x="494" y="130" width="1" height="19" fill="#ff4500"/>
<rect x="498" y="115" width="1" height="32" fill="#ff0000"/>
<rect x="497" y="125" width="3" height="5" fill="#ff0000"/>
<rect x="498" y="126" width="1" height="3" fill="#ff4500"/>
<rect x="502" y="110" width="1" height="56" fill="#ff0000"/>
<rect x="501" y="114" width="3" height="12" fill="#ff0000"/>
<rect x="502" y="115" width="1" height="10" fill="#ff4500"/>
<rect x="506" y="115" width="1" height="11" fill="#32cd32"/>
<rect x="505" y="120" width="3" height="6" fill="#2ac82a"/>
<rect x="506" y="121" width="1" height="4" fill="#32cd32"/>
<rect x="510" y="112" width="1" height="49" fill="#32cd32"/>
<rect x="509" y="125" width="3" height="31" fill="#2ac82a"/>
<rect x="510" y="126" width="1" height="29" fill="#32cd32"/>
<rect x="514" y="152" width="1" height="72" fill="#32cd32"/>
<rect x="513" y="155" width="3" height="63" fill="#2ac82a"/>
<rect x="514" y="156" width="1" height="61" fill="#32cd32"/>
<rect x="518" y="206" width="1" height="33" fill="#ff0000"/>
<rect x="517" y="214" width="3" height="5" fill="#ff0000"/>
<rect x="518" y="215" width="1" height="3" fill="#ff4500"/>
<rect x="522" y="177" width="1" height="39" fill="#ff0000"/>
<rect x="521" y="185" width="3" height="30" fill="#ff0000"/>
<rect x="522" y="186" width="1" height="28" fill="#ff4500"/>
<rect x="526" y="168" width="1" height="32" fill="#ff0000"/>
<rect x="525" y="173" width="3" height="13" fill="#ff0000"/>
<rect x="526" y="174" width="1" height="11" fill="#ff4500"/>
<rect x="530" y="172" width="1" height="8" fill="#32cd32"/>
<rect x="529" y="172" width="3" height="6" fill="#2ac82a"/>
<rect x="530" y="173" width="1" height="4" fill="#32cd32"/>
<rect x="534" y="123" width="1" height="63" fill="#ff0000"/>
<rect x="533" y="130" width="3" height="48" fill="#ff0000"/>
<rect x="534" y="131" width="1" height="46" fill="#ff4500"/>
<rect x="538" y="98" width="1" height="39" fill="#ff0000"/>
<rect x="537" y="99" width="3" height="32" fill="#ff0000"/>
<rect x="538" y="100" width="1" height="30" fill="#ff4500"/>
<rect x="542" y="61" width="1" height="59" fill="#32cd32"/>
<rect x="541" y="99" width="3" height="17" fill="#2ac82a"/>
<rect x="542" y="100" width="1" height="15" fill="#32cd32"/>
<rect x="546" y="104" width="1" height="51" fill="#32cd32"/>
<rect x="545" y="115" width="3" height="31" fill="#2ac82a"/>
<rect x="546" y="116" width="1" height="29" fill="#32cd32"/>
<rect x="550" y="91" width="1" height="55" fill="#ff0000"/>
<rect x="549" y="92" width="3" height="54" fill="#ff0000"/>
<rect x="550" y="93" width="1" height="52" fill="#ff4500"/>
<rect x="554" y="80" width="1" height="10" fill="#ff0000"/>
<rect x="553" y="82" width="3" height="8" fill="#ff0000"/>
<rect x="554" y="83" width="1" height="6" fill="#ff4500"/>
<rect x="558" y="47" width="1" height="42" fill="#ff0000"/>
<rect x="557" y="62" width="3" height="21" fill="#ff0000"/>
<rect x="558" y="63" width="1" height="19" fill="#ff4500"/>
<rect x="562" y="57" width="1" height="19" fill="#32cd32"/>
<rect x="561" y="62" width="3" height="8" fill="#2ac82a"/>
<rect x="562" y="63" width="1" height="6" fill="#32cd32"/>
<rect x="566" y="68" width="1" height="51" fill="#32cd32"/>
<rect x="565" y="69" width="3" height="39" fill="#2ac82a"/>
<rect x="566" y="70" width="1" height="37" fill="#32cd32"/>
<rect x="570" y="107" width="1" height="30" fill="#32cd32"/>
<rect x="569" y="107" width="3" height="14" fill="#2ac82a"/>
<rect x="570" y="108" width="1" height="12" fill="#32cd32"/>
<rect x="574" y="116" width="1" height="28" fill="#32cd32"/>
<rect x="573" y="120" width="3" height="10" fill="#2ac82a"/>
<rect x="574" y="121" width="1" height="8" fill="#32cd32"/>
<rect x="578" y="125" width="1" height="4" fill="#ff0000"/>
<rect x="577" y="126" width="3" height="3" fill="#ff0000"/>
<rect x="578" y="127" width="1" height="1" fill="#ff4500"/>
<rect x="582" y="109" width="1" height="38" fill="#32cd32"/>
<rect x="581" y="126" width="3" height="16" fill="#2ac82a"/>
<rect x="582" y="127" width="1" height="14" fill="#32cd32"/>
<rect x="586" y="118" width="1" height="27" fill="#ff0000"/>
<rect x="585" y="127" width="3" height="15" fill="#ff0000"/>
<rect x="586" y="128" width="1" height="13" fill="#ff4500"/>
<rect x="590" y="116" width="1" height="29" fill="#32cd32"/>
<rect x="589" y="126" width="3" height="19" fill="#2ac82a"/>
<rect x="590" y="127" width="1" height="17" fill="#32cd32"/>
<rect x="594" y="128" width="1" height="43" fill="#32cd32"/>
<rect x="593" y="144" width="3" height="21" fill="#2ac82a"/>
<rect x="594" y="145" width="1" height="19" fill="#32cd32"/>
<rect x="598" y="163" width="1" height="69" fill="#32cd32"/>
<rect x="597" y="164" width="3" height="58" fill="#2ac82a"/>
<rect x="598" y="165" width="1" height="56" fill="#32cd32"/>
<rect x="602" y="210" width="1" height="17" fill="#ff0000"/>
<rect x="601" y="210" width="3" height="16" fill="#ff0000"/>
<rect x="602" y="211" width="1" height="14" fill="#ff4500"/>
<rect x="606" y="146" width="1" height="73" fill="#ff0000"/>
<rect x="605" y="160" width="3" height="52" fill="#ff0000"/>
<rect x="606" y="161" width="1" height="50" fill="#ff4500"/>
<rect x="610" y="153" width="1" height="54" fill="#32cd32"/>
<rect x="609" y="160" width="3" height="27" fill="#2ac82a"/>
<rect x="610" y="161" width="1" height="25" fill="#32cd32"/>
<rect x="614" y="153" width="1" height="41" fill="#ff0000"/>
<rect x="613" y="156" width="3" height="30" fill="#ff0000"/>
<rect x="614" y="157" width="1" height="28" fill="#ff4500"/>
<rect x="618" y="127" width="1" height="58" fill="#32cd32"/>
<rect x="617" y="156" width="3" height="17" fill="#2ac82a"/>
<rect x="618" y="157" width="1" height="15" fill="#32cd32"/>
<rect x="622" y="172" width="1" height="53" fill="#32cd32"/>
<rect x="621" y="172" width="3" height="53" fill="#2ac82a"/>
<rect x="622" y="173" width="1" height="51" fill="#32cd32"/>
<rect x="626" y="212" width="1" height="13" fill="#ff0000"/>
<rect x="625" y="217" width="3" height="4" fill="#ff0000"/>
<rect x="626" y="218" width="1" height="2" fill="#ff4500"/>
<rect x="630" y="190" width="1" height="48" fill="#ff0000"/>
<rect x="629" y="207" width="3" height="11" fill="#ff0000"/>
<rect x="630" y="208" width="1" height="9" fill="#ff4500"/>
<rect x="634" y="204" width="1" height="57" fill="#32cd32"/>
<rect x="633" y="206" width="3" height="49" fill="#2ac82a"/>
<rect x="634" y="207" width="1" height="47" fill="#32cd32"/>
<rect x="638" y="253" width="1" height="46" fill="#32cd32"/>
<rect x="637" y="254" width="3" height="41" fill="#2ac82a"/>
<rect x="638" y="255" width="1" height="39" fill="#32cd32"/>
<rect x="642" y="284" width="1" height="38" fill="#ff0000"/>
<rect x="641" y="291" width="3" height="4" fill="#ff0000"/>
<rect x="642" y="292" width="1" height="2" fill="#ff4500"/>
<rect x="646" y="258" width="1" height="54" fill="#ff0000"/>
<rect x="645" y="263" width="3" height="29" fill="#ff0000"/>
<rect x="646" y="264" width="1" height="27" fill="#ff4500"/>
<rect x="650" y="265" width="1" height="10" fill="#32cd32"/>
<rect x="649" y="271" width="3" height="3" fill="#2ac82a"/>
<rect x="650" y="272" width="1" height="1" fill="#32cd32"/>
<rect x="654" y="268" width="1" height="29" fill="#32cd32"/>
<rect x="653" y="273" width="3" height="15" fill="#2ac82a"/>
<rect x="654" y="274" width="1" height="13" fill="#32cd32"/>
<rect x="658" y="262" width="1" height="42" fill="#32cd32"/>
<rect x="657" y="287" width="3" height="11" fill="#2ac82a"/>
<rect x="658" y="288" width="1" height="9" fill="#32cd32"/>
<rect x="662" y="282" width="1" height="41" fill="#ff0000"/>
<rect x="661" y="290" width="3" height="8" fill="#ff0000"/>
<rect x="662" y="291" width="1" height="6" fill="#ff4500"/>
<rect x="666" y="287" width="1" height="35" fill="#32cd32"/>
<rect x="665" y="291" width="3" height="5" fill="#2ac82a"/>
<rect x="666" y="292" width="1" height="3" fill="#32cd32"/>
<rect x="670" y="256" width="1" height="42" fill="#ff0000"/>
<rect x="669" y="257" width="3" height="39" fill="#ff0000"/>
<rect x="670" y="258" width="1" height="37" fill="#ff4500"/>
<rect x="674" y="253" width="1" height="11" fill="#32cd32"/>
<rect x="673" y="255" width="3" height="9" fill="#2ac82a"/>
<rect x="674" y="256" width="1" height="7" fill="#32cd32"/>
<rect x="678" y="187" width="1" height="80" fill="#ff0000"/>
<rect x="677" y="227" width="3" height="36" fill="#ff0000"/>
<rect x="678" y="228" width="1" height="34" fill="#ff4500"/>
<rect x="682" y="205" width="1" height="39" fill="#32cd32"/>
<rect x="681" y="228" width="3" height="6" fill="#2ac82a"/>
<rect x="682" y="229" width="1" height="4" fill="#32cd32"/>
<rect x="686" y="195" width="1" height="70" fill="#ff0000"/>
<rect x="685" y="212" width="3" height="22" fill="#ff0000"/>
<rect x="686" y="213" width="1" height="20" fill="#ff4500"/>
<rect x="690" y="163" width="1" height="53" fill="#ff0000"/>
<rect x="689" y="163" width="3" height="50" fill="#ff0000"/>
<rect x="690" y="164" width="1" height="48" fill="#ff4500"/>
<rect x="694" y="136" width="1" height="46" fill="#ff0000"/>
<rect x="693" y="142" width="3" height="22" fill="#ff0000"/>
<rect x="694" y="143" width="1" height="20" fill="#ff4500"/>
<rect x="698" y="147" width="1" height="10" fill="#32cd32"/>
<rect x="697" y="153" width="3" height="4" fill="#2ac82a"/>
<rect x="698" y="154" width="1" height="2" fill="#32cd32"/>
<rect x="702" y="148" width="1" height="51" fill="#32cd32"/>
<rect x="701" y="156" width="3" height="24" fill="#2ac82a"/>
<rect x="702" y="157" width="1" height="22" fill="#32cd32"/>
<rect x="706" y="174" width="1" height="39" fill="#32cd32"/>
<rect x="705" y="179" width="3" height="16" fill="#2ac82a"/>
<rect x="706" y="180" width="1" height="14" fill="#32cd32"/>
<rect x="710" y="185" width="1" height="31" fill="#32cd32"/>
<rect x="709" y="194" width="3" height="2" fill="#2ac82a"/>
<rect x="714" y="180" width="1" height="32" fill="#32cd32"/>
<rect x="713" y="196" width="3" height="5" fill="#2ac82a"/>
<rect x="714" y="197" width="1" height="3" fill="#32cd32"/>
<rect x="718" y="141" width="1" height="68" fill="#ff0000"/>
<rect x="717" y="160" width="3" height="40" fill="#ff0000"/>
<rect x="718" y="161" width="1" height="38" fill="#ff4500"/>
<rect x="722" y="160" width="1" height="5" fill="#32cd32"/>
<rect x="721" y="161" width="3" height="4" fill="#2ac82a"/>
<rect x="722" y="162" width="1" height="2" fill="#32cd32"/>
<rect x="726" y="158" width="1" height="54" fill="#32cd32"/>
<rect x="725" y="164" width="3" height="44" fill="#2ac82a"/>
<rect x="726" y="165" width="1" height="42" fill="#32cd32"/>
<rect x="730" y="177" width="1" height="31" fill="#ff0000"/>
<rect x="729" y="185" width="3" height="23" fill="#ff0000"/>
<rect x="730" y="186" width="1" height="21" fill="#ff4500"/>
<rect x="734" y="180" width="1" height="27" fill="#32cd32"/>
<rect x="733" y="185" width="3" height="17" fill="#2ac82a"/>
<rect x="734" y="186" width="1" height="15" fill="#32cd32"/>
<rect x="738" y="170" width="1" height="54" fill="#ff0000"/>
<rect x="737" y="170" width="3" height="32" fill="#ff0000"/>
<rect x="738" y="171" width="1" height="30" fill="#ff4500"/>
<rect x="742" y="161" width="1" height="44" fill="#ff0000"/>
<rect x="741" y="166" width="3" height="5" fill="#ff0000"/>
<rect x="742" y="167" width="1" height="3" fill="#ff4500"/>
<rect x="746" y="166" width="1" height="12" fill="#32cd32"/>
<rect x="745" y="170" width="3" height="6" fill="#2ac82a"/>
<rect x="746" y="171" width="1" height="4" fill="#32cd32"/>
<rect x="750" y="143" width="1" height="35" fill="#ff0000"/>
<rect x="749" y="173" width="3" height="3" fill="#ff0000"/>
<rect x="750" y="174" width="1" height="1" fill="#ff4500"/>
<rect x="754" y="149" width="1" height="38" fill="#32cd32"/>
<rect x="753" y="173" width="3" height="3" fill="#2ac82a"/>
<rect x="754" y="174" width="1" height="1" fill="#32cd32"/>
<rect x="758" y="175" width="1" height="34" fill="#32cd32"/>
<rect x="757" y="175" width="3" height="16" fill="#2ac82a"/>
<rect x="758" y="176" width="1" height="14" fill="#32cd32"/>
<rect x="762" y="169" width="1" height="33" fill="#ff0000"/>
<rect x="761" y="183" width="3" height="8" fill="#ff0000"/>
<rect x="762" y="184" width="1" height="6" fill="#ff4500"/>
<rect x="766" y="157" width="1" height="47" fill="#ff0000"/>
<rect x="765" y="165" width="3" height="20" fill="#ff0000"/>
<rect x="766" y="166" width="1" height="18" fill="#ff4500"/>
<rect x="770" y="156" width="1" height="6" fill="#ff0000"/>
<rect x="769" y="158" width="3" height="4" fill="#ff0000"/>
<rect x="770" y="159" width="1" height="2" fill="#ff4500"/>
<rect x="774" y="153" width="1" height="25" fill="#ff0000"/>
<rect x="773" y="158" width="3" height="2" fill="#ff0000"/>
<rect x="778" y="144" width="1" height="35" fill="#ff0000"/>
<rect x="777" y="152" width="3" height="6" fill="#ff0000"/>
<rect x="778" y="153" width="1" height="4" fill="#ff4500"/>
<rect x="782" y="151" width="1" height="48" fill="#32cd32"/>
<rect x="781" y="152" width="3" height="19" fill="#2ac82a"/>
<rect x="782" y="153" width="1" height="17" fill="#32cd32"/>
<rect x="786" y="93" width="1" height="79" fill="#ff0000"/>
<rect x="785" y="131" width="3" height="40" fill="#ff0000"/>
<rect x="786" y="132" width="1" height="38" fill="#ff4500"/>
<rect x="790" y="124" width="1" height="60" fill="#32cd32"/>
<rect x="789" y="131" width="3" height="53" fill="#2ac82a"/>
<rect x="790" y="132" width="1" height="51" fill="#32cd32"/>
<rect x="794" y="156" width="1" height="12" fill="#ff0000"/>
<rect x="793" y="159" width="3" height="2" fill="#ff0000"/>
<rect x="798" y="130" width="1" height="81" fill="#32cd32"/>
<rect x="797" y="158" width="3" height="49" fill="#2ac82a"/>
<rect x="798" y="159" width="1" height="47" fill="#32cd32"/>
<rect x="802" y="161" width="1" height="53" fill="#ff0000"/>
<rect x="801" y="174" width="3" height="33" fill="#ff0000"/>
<rect x="802" y="175" width="1" height="31" fill="#ff4500"/>
<rect x="806" y="164" width="1" height="64" fill="#32cd32"/>
<rect x="805" y="175" width="3" height="43" fill="#2ac82a"/>
<rect x="806" y="176" width="1" height="41" fill="#32cd32"/>
<rect x="810" y="192" width="1" height="58" fill="#ff0000"/>
<rect x="809" y="204" width="3" height="14" fill="#ff0000"/>
<rect x="810" y="205" width="1" height="12" fill="#ff4500"/>
<rect x="814" y="139" width="1" height="67" fill="#ff0000"/>
<rect x="813" y="166" width="3" height="39" fill="#ff0000"/>
<rect x="814" y="167" width="1" height="37" fill="#ff4500"/>
<rect x="818" y="158" width="1" height="24" fill="#32cd32"/>
<rect x="817" y="171" width="3" height="10" fill="#2ac82a"/>
<rect x="818" y="172" width="1" height="8" fill="#32cd32"/>
<rect x="822" y="124" width="1" height="73" fill="#ff0000"/>
<rect x="821" y="135" width="3" height="45" fill="#ff0000"/>
<rect x="822" y="136" width="1" height="43" fill="#ff4500"/>
<rect x="826" y="81" width="1" height="57" fill="#ff0000"/>
<rect x="825" y="86" width="3" height="50" fill="#ff0000"/>
<rect x="826" y="87" width="1" height="48" fill="#ff4500"/>
<rect x="830" y="85" width="1" height="51" fill="#32cd32"/>
<rect x="829" y="85" width="3" height="51" fill="#2ac82a"/>
<rect x="830" y="86" width="1" height="49" fill="#32cd32"/>
<rect x="834" y="112" width="1" height="50" fill="#32cd32"/>
<rect x="833" y="135" width="3" height="25" fill="#2ac82a"/>
<rect x="834" y="136" width="1" height="23" fill="#32cd32"/>
<rect x="838" y="138" width="1" height="55" fill="#32cd32"/>
<rect x="837" y="159" width="3" height="17" fill="#2ac82a"/>
<rect x="838" y="160" width="1" height="15" fill="#32cd32"/>
<rect x="842" y="167" width="1" height="7" fill="#32cd32"/>
<rect x="841" y="167" width="3" height="3" fill="#2ac82a"/>
<rect x="842" y="168" width="1" height="1" fill="#32cd32"/>
<rect x="846" y="120" width="1" height="52" fill="#ff0000"/>
<rect x="845" y="123" width="3" height="47" fill="#ff0000"/>
<rect x="846" y="124" width="1" height="45" fill="#ff4500"/>
<rect x="850" y="96" width="1" height="60" fill="#32cd32"/>
<rect x="849" y="123" width="3" height="28" fill="#2ac82a"/>
<rect x="850" y="124" width="1" height="26" fill="#32cd32"/>
<rect x="854" y="147" width="1" height="56" fill="#32cd32"/>
<rect x="853" y="150" width="3" height="46" fill="#2ac82a"/>
<rect x="854" y="151" width="1" height="44" fill="#32cd32"/>
<rect x="858" y="189" width="1" height="47" fill="#32cd32"/>
<rect x="857" y="195" width="3" height="30" fill="#2ac82a"/>
<rect x="858" y="196" width="1" height="28" fill="#32cd32"/>
<rect x="862" y="217" width="1" height="29" fill="#32cd32"/>
<rect x="861" y="224" width="3" height="19" fill="#2ac82a"/>
<rect x="862" y="225" width="1" height="17" fill="#32cd32"/>
<rect x="866" y="239" width="1" height="6" fill="#ff0000"/>
<rect x="865" y="240" width="3" height="2" fill="#ff0000"/>
<rect x="870" y="230" width="1" height="32" fill="#32cd32"/>
<rect x="869" y="239" width="3" height="10" fill="#2ac82a"/>
<rect x="870" y="240" width="1" height="8" fill="#32cd32"/>
<rect x="874" y="229" width="1" height="33" fill="#32cd32"/>
<rect x="873" y="248" width="3" height="4" fill="#2ac82a"/>
<rect x="874" y="249" width="1" height="2" fill="#32cd32"/>
<rect x="878" y="239" width="1" height="35" fill="#32cd32"/>
<rect x="877" y="251" width="3" height="14" fill="#2ac82a"/>
<rect x="878" y="252" width="1" height="12" fill="#32cd32"/>
<rect x="882" y="249" width="1" height="42" fill="#32cd32"/>
<rect x="881" y="264" width="3" height="21" fill="#2ac82a"/>
<rect x="882" y="265" width="1" height="19" fill="#32cd32"/>
<rect x="886" y="267" width="1" height="45" fill="#32cd32"/>
<rect x="885" y="284" width="3" height="28" fill="#2ac82a"/>
<rect x="886" y="285" width="1" height="26" fill="#32cd32"/>
<rect x="890" y="303" width="1" height="5" fill="#ff0000"/>
<rect x="889" y="303" width="3" height="3" fill="#ff0000"/>
<rect x="890" y="304" width="1" height="1" fill="#ff4500"/>
<rect x="894" y="246" width="1" height="65" fill="#ff0000"/>
<rect x="893" y="284" width="3" height="20" fill="#ff0000"/>
<rect x="894" y="285" width="1" height="18" fill="#ff4500"/>
<rect x="898" y="280" width="1" height="33" fill="#32cd32"/>
<rect x="897" y="284" width="3" height="14" fill="#2ac82a"/>
<rect x="898" y="285" width="1" height="12" fill="#32cd32"/>
<rect x="902" y="291" width="1" height="43" fill="#32cd32"/>
<rect x="901" y="296" width="3" height="9" fill="#2ac82a"/>
<rect x="902" y="297" width="1" height="7" fill="#32cd32"/>
<rect x="906" y="278" width="1" height="38" fill="#ff0000"/>
<rect x="905" y="295" width="3" height="10" fill="#ff0000"/>
<rect x="906" y="296" width="1" height="8" fill="#ff4500"/>
<rect x="910" y="274" width="1" height="33" fill="#ff0000"/>
<rect x="909" y="290" width="3" height="6" fill="#ff0000"/>
<rect x="910" y="291" width="1" height="4" fill="#ff4500"/>
<rect x="914" y="281" width="1" height="3" fill="#ff0000"/>
<rect x="913" y="281" width="3" height="3" fill="#ff0000"/>
<rect x="914" y="282" width="1" height="1" fill="#ff4500"/>
<rect x="918" y="280" width="1" height="34" fill="#32cd32"/>
<rect x="917" y="281" width="3" height="23" fill="#2ac82a"/>
<rect x="918" y="282" width="1" height="21" fill="#32cd32"/>
<rect x="922" y="297" width="1" height="52" fill="#32cd32"/>
<rect x="921" y="302" width="3" height="2" fill="#2ac82a"/>
</g>
<path d="M2 358h1v1h-1zM3 358h1v1h-1zM4 358h1v1h-1zM5 358h1v1h-1zM6 357h1v1h-1zM7 357h1v1h-1zM8 356h1v1h-1zM9 355h1v1h-1zM10 355h1v1h-1zM11 354h1v1h-1zM12 353h1v1h-1zM13 352h1v1h-1zM14 351h1v1h-1zM15 350h1v1h-1zM16 349h1v1h-1zM17 347h1v2h-1zM18 345h1v2h-1zM19 344h1v1h-1zM20 341h1v3h-1zM21 339h1v2h-1zM22 337h1v2h-1zM23 335h1v2h-1zM24 333h1v2h-1zM25 330h1v3h-1zM26 328h1v2h-1zM27 325h1v3h-1zM28 323h1v2h-1zM29 320h1v3h-1zM30 318h1v2h-1zM31 315h1v3h-1zM32 313h1v2h-1zM33 311h1v2h-1zM34 308h1v3h-1zM35 306h1v2h-1zM36 305h1v1h-1zM37 303h1v2h-1zM38 301h1v2h-1zM39 299h1v2h-1zM40 298h1v1h-1zM41 296h1v2h-1zM42 295h1v1h-1zM43 294h1v1h-1zM44 293h1v1h-1zM45 292h1v1h-1zM46 291h1v1h-1zM47 290h1v1h-1zM48 289h1v1h-1zM49 288h1v1h-1zM50 287h1v1h-1zM51 286h1v1h-1zM52 285h1v1h-1zM53 284h1v1h-1zM54 283h1v1h-1zM55 282h1v1h-1zM56 281h1v1h-1zM57 280h1v1h-1zM58 279h1v1h-1zM59 277h1v2h-1zM60 276h1v1h-1zM61 274h1v2h-1zM62 273h1v1h-1zM63 272h1v1h-1zM64 271h1v1h-1zM65 271h1v1h-1zM66 270h1v1h-1zM67 270h1v1h-1zM68 270h1v1h-1zM69 270h1v1h-1zM70 270h1v1h-1zM71 270h1v1h-1zM72 270h1v1h-1zM73 270h1v1h-1zM74 270h1v1h-1zM75 270h1v1h-1zM76 270h1v1h-1zM77 271h1v1h-1zM78 271h1v1h-1zM79 271h1v1h-1zM80 271h1v1h-1zM81 270h1v1h-1zM82 269h1v1h-1zM83 268h1v1h-1zM84 267h1v1h-1zM85 267h1v1h-1zM86 266h1v1h-1zM87 266h1v1h-1zM88 265h1v1h-1zM89 265h1v1h-1zM90 265h1v1h-1zM91 264h1v1h-1zM92 264h1v1h-1zM93 264h1v1h-1zM94 263h1v1h-1zM95 263h1v1h-1zM96 263h1v1h-1zM97 263h1v1h-1zM98 263h1v1h-1zM99 263h1v1h-1zM100 263h1v1h-1zM101 263h1v1h-1zM102 263h1v1h-1zM103 263h1v1h-1zM104 264h1v1h-1zM105 264h1v1h-1zM106 265h1v1h-1zM107 265h1v1h-1zM108 266h1v1h-1zM109 267h1v1h-1zM110 268h1v1h-1zM111 269h1v1h-1zM112 270h1v1h-1zM113 271h1v2h-1zM114 273h1v1h-1zM115 274h1v1h-1zM116 275h1v1h-1zM117 276h1v1h-1zM118 277h1v1h-1zM119 278h1v1h-1zM120 279h1v1h-1zM121 280h1v1h-1zM122 280h1v1h-1zM123 280h1v1h-1zM124 280h1v1h-1zM125 280h1v1h-1zM126 280h1v1h-1zM127 280h1v1h-1zM128 279h1v1h-1zM129 278h1v1h-1zM130 278h1v1h-1zM131 277h1v1h-1zM132 276h1v1h-1zM133 275h1v1h-1zM134 274h1v1h-1zM135 272h1v2h-1zM136 271h1v1h-1zM137 270h1v1h-1zM138 268h1v2h-1zM139 267h1v1h-1zM140 266h1v1h-1zM141 264h1v2h-1zM142 263h1v1h-1zM143 261h1v2h-1zM144 259h1v2h-1zM145 257h1v2h-1zM146 255h1v2h-1zM147 253h1v2h-1zM148 251h1v2h-1zM149 250h1v1h-1zM150 249h1v1h-1zM151 249h1v1h-1zM152 248h1v1h-1zM153 247h1v1h-1zM154 246h1v1h-1zM155 245h1v1h-1zM156 245h1v1h-1zM157 244h1v1h-1zM158 243h1v1h-1zM159 242h1v1h-1zM160 241h1v1h-1zM161 240h1v1h-1zM162 239h1v1h-1zM163 238h1v1h-1zM164 237h1v1h-1zM165 236h1v1h-1zM166 235h1v1h-1zM167 235h1v1h-1zM168 234h1v1h-1zM169 234h1v1h-1zM170 233h1v1h-1zM171 233h1v1h-1zM172 232h1v1h-1zM173 232h1v1h-1zM174 231h1v1h-1zM175 230h1v1h-1zM176 230h1v1h-1zM177 229h1v1h-1zM178 229h1v1h-1zM179 229h1v1h-1zM180 228h1v1h-1zM181 228h1v1h-1zM182 228h1v1h-1zM183 228h1v1h-1zM184 228h1v1h-1zM185 228h1v1h-1zM186 229h1v1h-1zM187 229h1v1h-1zM188 229h1v1h-1zM189 229h1v1h-1zM190 229h1v1h-1zM191 229h1v1h-1zM192 229h1v1h-1zM193 229h1v1h-1zM194 229h1v1h-1zM195 229h1v1h-1zM196 229h1v1h-1zM197 229h1v1h-1zM198 228h1v1h-1zM199 228h1v1h-1zM200 227h1v1h-1zM201 226h1v1h-1zM202 225h1v1h-1zM203 223h1v2h-1zM204 222h1v1h-1zM205 221h1v1h-1zM206 220h1v1h-1zM207 219h1v1h-1zM208 218h1v1h-1zM209 218h1v1h-1zM210 217h1v1h-1zM211 217h1v1h-1zM212 217h1v1h-1zM213 217h1v1h-1zM214 217h1v1h-1zM215 217h1v1h-1zM216 217h1v1h-1zM217 217h1v1h-1zM218 217h1v1h-1zM219 217h1v1h-1zM220 218h1v1h-1zM221 219h1v1h-1zM222 220h1v1h-1zM223 221h1v1h-1zM224 222h1v1h-1zM225 223h1v1h-1zM226 224h1v2h-1zM227 226h1v2h-1zM228 228h1v1h-1zM229 229h1v1h-1zM230 230h1v1h-1zM231 230h1v1h-1zM232 231h1v1h-1zM233 230h1v1h-1zM234 229h1v1h-1zM235 229h1v1h-1zM236 228h1v1h-1zM237 227h1v1h-1zM238 226h1v1h-1zM239 225h1v1h-1zM240 224h1v1h-1zM241 223h1v1h-1zM242 222h1v1h-1zM243 222h1v1h-1zM244 221h1v1h-1zM245 220h1v1h-1zM246 219h1v1h-1zM247 218h1v1h-1zM248 216h1v2h-1zM249 215h1v1h-1zM250 213h1v2h-1zM251 212h1v1h-1zM252 211h1v1h-1zM253 210h1v1h-1zM254 209h1v1h-1zM255 209h1v1h-1zM256 209h1v1h-1zM257 208h1v1h-1zM258 208h1v1h-1zM259 208h1v1h-1zM260 207h1v1h-1zM261 207h1v1h-1zM262 207h1v1h-1zM263 206h1v1h-1zM264 206h1v1h-1zM265 206h1v1h-1zM266 205h1v1h-1zM267 205h1v1h-1zM268 204h1v1h-1zM269 204h1v1h-1zM270 203h1v1h-1zM271 203h1v1h-1zM272 202h1v1h-1zM273 201h1v1h-1zM274 200h1v1h-1zM275 199h1v1h-1zM276 197h1v2h-1zM277 195h1v2h-1zM278 194h1v1h-1zM279 193h1v1h-1zM280 192h1v1h-1zM281 191h1v1h-1zM282 190h1v1h-1zM283 190h1v1h-1zM284 190h1v1h-1zM285 190h1v1h-1zM286 191h1v1h-1zM287 191h1v1h-1zM288 192h1v1h-1zM289 192h1v1h-1zM290 192h1v1h-1zM291 193h1v1h-1zM292 193h1v1h-1zM293 193h1v1h-1zM294 194h1v1h-1zM295 194h1v1h-1zM296 195h1v1h-1zM297 195h1v1h-1zM298 196h1v1h-1zM299 197h1v1h-1zM300 197h1v1h-1zM301 198h1v1h-1zM302 199h1v1h-1zM303 199h1v1h-1zM304 200h1v1h-1zM305 200h1v1h-1zM306 201h1v1h-1zM307 202h1v2h-1zM308 204h1v1h-1zM309 205h1v1h-1zM310 206h1v1h-1zM311 207h1v1h-1zM312 207h1v1h-1zM313 208h1v1h-1zM314 209h1v1h-1zM315 210h1v2h-1zM316 212h1v2h-1zM317 214h1v1h-1zM318 215h1v2h-1zM319 217h1v1h-1zM320 218h1v2h-1zM321 220h1v1h-1zM322 221h1v2h-1zM323 223h1v2h-1zM324 225h1v2h-1zM325 227h1v3h-1zM326 230h1v2h-1zM327 232h1v3h-1zM328 235h1v2h-1zM329 237h1v3h-1zM330 240h1v3h-1zM331 243h1v2h-1zM332 245h1v3h-1zM333 248h1v3h-1zM334 251h1v3h-1zM335 254h1v2h-1zM336 256h1v3h-1zM337 259h1v3h-1zM338 262h1v2h-1zM339 264h1v3h-1zM340 267h1v2h-1zM341 269h1v2h-1zM342 271h1v2h-1zM343 273h1v2h-1zM344 275h1v2h-1zM345 277h1v2h-1zM346 279h1v2h-1zM347 281h1v1h-1zM348 282h1v2h-1zM349 284h1v2h-1zM350 286h1v2h-1zM351 288h1v2h-1zM352 290h1v2h-1zM353 292h1v2h-1zM354 294h1v2h-1zM355 296h1v2h-1zM356 298h1v2h-1zM357 300h1v3h-1zM358 303h1v2h-1zM359 305h1v2h-1zM360 307h1v2h-1zM361 309h1v3h-1zM362 312h1v2h-1zM363 314h1v2h-1zM364 316h1v1h-1zM365 317h1v2h-1zM366 319h1v2h-1zM367 321h1v2h-1zM368 323h1v1h-1zM369 324h1v2h-1zM370 326h1v2h-1zM371 328h1v1h-1zM372 329h1v2h-1zM373 331h1v1h-1zM374 332h1v2h-1zM375 334h1v1h-1zM376 335h1v1h-1zM377 336h1v2h-1zM378 338h1v1h-1zM379 339h1v1h-1zM380 340h1v2h-1zM381 342h1v1h-1zM382 343h1v1h-1zM383 344h1v2h-1zM384 346h1v1h-1zM385 347h1v2h-1zM386 349h1v1h-1zM387 350h1v2h-1zM388 352h1v1h-1zM389 352h1v1h-1zM390 353h1v1h-1zM391 353h1v1h-1zM392 353h1v1h-1zM393 353h1v1h-1zM394 353h1v1h-1zM395 353h1v1h-1zM396 353h1v1h-1zM397 353h1v1h-1zM398 353h1v1h-1zM399 354h1v1h-1zM400 354h1v2h-1zM401 356h1v1h-1zM402 357h1v1h-1zM403 358h1v1h-1zM404 358h1v1h-1zM405 358h1v1h-1zM406 358h1v1h-1zM407 358h1v1h-1zM408 358h1v1h-1zM409 358h1v1h-1zM410 358h1v1h-1zM411 357h1v1h-1zM412 357h1v1h-1zM413 357h1v1h-1zM414 357h1v1h-1zM415 356h1v1h-1zM416 356h1v1h-1zM417 355h1v1h-1zM418 355h1v1h-1zM419 354h1v1h-1zM420 354h1v1h-1zM421 353h1v1h-1zM422 352h1v1h-1zM423 351h1v1h-1zM424 349h1v2h-1zM425 347h1v2h-1zM426 345h1v2h-1zM427 344h1v1h-1zM428 343h1v1h-1zM429 341h1v2h-1zM430 340h1v1h-1zM431 339h1v1h-1zM432 338h1v1h-1zM433 337h1v1h-1zM434 336h1v1h-1zM435 335h1v1h-1zM436 334h1v1h-1zM437 333h1v1h-1zM438 332h1v1h-1zM439 331h1v1h-1zM440 330h1v1h-1zM441 328h1v2h-1zM442 327h1v1h-1zM443 325h1v2h-1zM444 324h1v1h-1zM445 322h1v2h-1zM446 320h1v2h-1zM447 319h1v1h-1zM448 317h1v2h-1zM449 316h1v1h-1zM450 314h1v2h-1zM451 313h1v1h-1zM452 311h1v2h-1zM453 310h1v1h-1zM454 308h1v2h-1zM455 306h1v2h-1zM456 305h1v1h-1zM457 302h1v3h-1zM458 300h1v2h-1zM459 298h1v2h-1zM460 295h1v3h-1zM461 293h1v2h-1zM462 291h1v2h-1zM463 289h1v2h-1zM464 286h1v3h-1zM465 284h1v2h-1zM466 282h1v2h-1zM467 281h1v1h-1zM468 279h1v2h-1zM469 277h1v2h-1zM470 275h1v2h-1zM471 273h1v2h-1zM472 271h1v2h-1zM473 269h1v2h-1zM474 267h1v2h-1zM475 266h1v1h-1zM476 264h1v2h-1zM477 262h1v2h-1zM478 260h1v2h-1zM479 258h1v2h-1zM480 255h1v3h-1zM481 252h1v3h-1zM482 250h1v2h-1zM483 248h1v2h-1zM484 246h1v2h-1zM485 244h1v2h-1zM486 242h1v2h-1zM487 240h1v2h-1zM488 238h1v2h-1zM489 236h1v2h-1zM490 234h1v2h-1zM491 232h1v2h-1zM492 230h1v2h-1zM493 228h1v2h-1zM494 225h1v3h-1zM495 223h1v2h-1zM496 221h1v2h-1zM497 218h1v3h-1zM498 216h1v2h-1zM499 213h1v3h-1zM500 210h1v3h-1zM501 208h1v2h-1zM502 205h1v3h-1zM503 203h1v2h-1zM504 201h1v2h-1zM505 199h1v2h-1zM506 198h1v1h-1zM507 197h1v1h-1zM508 195h1v2h-1zM509 194h1v1h-1zM510 193h1v1h-1zM511 193h1v1h-1zM512 192h1v1h-1zM513 191h1v1h-1zM514 190h1v1h-1zM515 189h1v1h-1zM516 189h1v1h-1zM517 188h1v1h-1zM518 187h1v1h-1zM519 186h1v1h-1zM520 186h1v1h-1zM521 185h1v1h-1zM522 184h1v1h-1zM523 183h1v1h-1zM524 182h1v1h-1zM525 181h1v1h-1zM526 180h1v1h-1zM527 179h1v1h-1zM528 178h1v1h-1zM529 176h1v2h-1zM530 175h1v1h-1zM531 174h1v1h-1zM532 173h1v1h-1zM533 172h1v1h-1zM534 171h1v1h-1zM535 169h1v2h-1zM536 168h1v1h-1zM537 167h1v1h-1zM538 166h1v1h-1zM539 164h1v2h-1zM540 163h1v1h-1zM541 162h1v1h-1zM542 161h1v1h-1zM543 160h1v1h-1zM544 159h1v1h-1zM545 158h1v1h-1zM546 157h1v1h-1zM547 155h1v2h-1zM548 154h1v1h-1zM549 153h1v1h-1zM550 152h1v1h-1zM551 151h1v1h-1zM552 150h1v1h-1zM553 149h1v1h-1zM554 148h1v1h-1zM555 147h1v1h-1zM556 145h1v2h-1zM557 144h1v1h-1zM558 143h1v1h-1zM559 141h1v2h-1zM560 140h1v1h-1zM561 139h1v1h-1zM562 137h1v2h-1zM563 136h1v1h-1zM564 135h1v1h-1zM565 134h1v1h-1zM566 133h1v1h-1zM567 133h1v1h-1zM568 132h1v1h-1zM569 132h1v1h-1zM570 132h1v1h-1zM571 132h1v1h-1zM572 132h1v1h-1zM573 132h1v1h-1zM574 132h1v1h-1zM575 132h1v1h-1zM576 131h1v1h-1zM577 131h1v1h-1zM578 131h1v1h-1zM579 131h1v1h-1zM580 131h1v1h-1zM581 131h1v1h-1zM582 131h1v1h-1zM583 132h1v1h-1zM584 132h1v1h-1zM585 133h1v1h-1zM586 133h1v1h-1zM587 133h1v1h-1zM588 133h1v1h-1zM589 133h1v1h-1zM590 134h1v1h-1zM591 134h1v1h-1zM592 134h1v1h-1zM593 134h1v1h-1zM594 134h1v1h-1zM595 134h1v1h-1zM596 134h1v1h-1zM597 134h1v1h-1zM598 134h1v1h-1zM599 134h1v1h-1zM600 134h1v1h-1zM601 134h1v1h-1zM602 134h1v1h-1zM603 133h1v1h-1zM604 133h1v1h-1zM605 133h1v1h-1zM606 133h1v1h-1zM607 133h1v1h-1zM608 133h1v1h-1zM609 133h1v1h-1zM610 134h1v1h-1zM611 134h1v1h-1zM612 133h1v1h-1zM613 133h1v1h-1zM614 133h1v1h-1zM615 133h1v1h-1zM616 133h1v1h-1zM617 133h1v1h-1zM618 134h1v1h-1zM619 135h1v1h-1zM620 136h1v2h-1zM621 138h1v1h-1zM622 139h1v2h-1zM623 141h1v2h-1zM624 143h1v1h-1zM625 144h1v1h-1zM626 145h1v1h-1zM627 145h1v1h-1zM628 146h1v1h-1zM629 146h1v1h-1zM630 147h1v2h-1zM631 149h1v3h-1zM632 152h1v3h-1zM633 155h1v1h-1zM634 156h1v2h-1zM635 158h1v2h-1zM636 160h1v2h-1zM637 162h1v3h-1zM638 165h1v2h-1zM639 167h1v3h-1zM640 170h1v4h-1zM641 174h1v3h-1zM642 177h1v3h-1zM643 180h1v2h-1zM644 182h1v3h-1zM645 185h1v2h-1zM646 187h1v2h-1zM647 189h1v2h-1zM648 191h1v2h-1zM649 193h1v2h-1zM650 195h1v2h-1zM651 197h1v2h-1zM652 199h1v2h-1zM653 201h1v1h-1zM654 202h1v2h-1zM655 204h1v2h-1zM656 206h1v2h-1zM657 208h1v1h-1zM658 209h1v2h-1zM659 211h1v2h-1zM660 213h1v2h-1zM661 215h1v1h-1zM662 216h1v2h-1zM663 218h1v2h-1zM664 220h1v3h-1zM665 223h1v2h-1zM666 225h1v2h-1zM667 227h1v1h-1zM668 228h1v2h-1zM669 230h1v2h-1zM670 232h1v1h-1zM671 233h1v2h-1zM672 235h1v1h-1zM673 236h1v1h-1zM674 237h1v1h-1zM675 238h1v1h-1zM676 239h1v1h-1zM677 239h1v1h-1zM678 240h1v1h-1zM679 240h1v1h-1zM680 240h1v1h-1zM681 240h1v1h-1zM682 241h1v1h-1zM683 241h1v1h-1zM684 241h1v1h-1zM685 241h1v1h-1zM686 241h1v1h-1zM687 241h1v1h-1zM688 241h1v1h-1zM689 241h1v1h-1zM690 240h1v1h-1zM691 240h1v1h-1zM692 240h1v1h-1zM693 239h1v1h-1zM694 239h1v1h-1zM695 239h1v1h-1zM696 238h1v1h-1zM697 238h1v1h-1zM698 238h1v1h-1zM699 238h1v1h-1zM700 238h1v1h-1zM701 238h1v1h-1zM702 238h1v1h-1zM703 238h1v1h-1zM704 238h1v1h-1zM705 238h1v1h-1zM706 237h1v1h-1zM707 237h1v1h-1zM708 237h1v1h-1zM709 237h1v1h-1zM710 237h1v1h-1zM711 237h1v1h-1zM712 237h1v1h-1zM713 237h1v1h-1zM714 236h1v1h-1zM715 236h1v1h-1zM716 234h1v2h-1zM717 233h1v1h-1zM718 232h1v1h-1zM719 230h1v2h-1zM720 229h1v1h-1zM721 227h1v2h-1zM722 226h1v1h-1zM723 225h1v1h-1zM724 224h1v1h-1zM725 223h1v1h-1zM726 222h1v1h-1zM727 221h1v1h-1zM728 220h1v1h-1zM729 220h1v1h-1zM730 219h1v1h-1zM731 218h1v1h-1zM732 217h1v1h-1zM733 216h1v1h-1zM734 215h1v1h-1zM735 214h1v1h-1zM736 213h1v1h-1zM737 211h1v2h-1zM738 209h1v2h-1zM739 208h1v1h-1zM740 206h1v2h-1zM741 204h1v2h-1zM742 203h1v1h-1zM743 201h1v2h-1zM744 200h1v1h-1zM745 198h1v2h-1zM746 197h1v1h-1zM747 195h1v2h-1zM748 194h1v1h-1zM749 193h1v1h-1zM750 192h1v1h-1zM751 191h1v1h-1zM752 190h1v1h-1zM753 189h1v1h-1zM754 188h1v1h-1zM755 187h1v1h-1zM756 186h1v1h-1zM757 185h1v1h-1zM758 184h1v1h-1zM759 183h1v1h-1zM760 182h1v1h-1zM761 182h1v1h-1zM762 181h1v1h-1zM763 180h1v1h-1zM764 180h1v1h-1zM765 179h1v1h-1zM766 178h1v1h-1zM767 177h1v1h-1zM768 177h1v1h-1zM769 176h1v1h-1zM770 176h1v1h-1zM771 176h1v1h-1zM772 176h1v1h-1zM773 176h1v1h-1zM774 176h1v1h-1zM775 176h1v1h-1zM776 176h1v1h-1zM777 176h1v1h-1zM778 176h1v1h-1zM779 176h1v1h-1zM780 176h1v1h-1zM781 176h1v1h-1zM782 176h1v1h-1zM783 176h1v1h-1zM784 176h1v1h-1zM785 176h1v1h-1zM786 175h1v1h-1zM787 175h1v1h-1zM788 174h1v1h-1zM789 174h1v1h-1zM790 173h1v1h-1zM791 173h1v1h-1zM792 173h1v1h-1zM793 173h1v1h-1zM794 173h1v1h-1zM795 173h1v1h-1zM796 173h1v1h-1zM797 173h1v1h-1zM798 173h1v1h-1zM799 173h1v1h-1zM800 173h1v1h-1zM801 173h1v1h-1zM802 174h1v1h-1zM803 175h1v1h-1zM804 175h1v1h-1zM805 175h1v1h-1zM806 176h1v1h-1zM807 176h1v1h-1zM808 176h1v1h-1zM809 176h1v1h-1zM810 176h1v1h-1zM811 176h1v1h-1zM812 175h1v1h-1zM813 175h1v1h-1zM814 174h1v1h-1zM815 174h1v1h-1zM816 173h1v1h-1zM817 173h1v1h-1zM818 173h1v1h-1zM819 173h1v1h-1zM820 172h1v1h-1zM821 172h1v1h-1zM822 171h1v1h-1zM823 171h1v1h-1zM824 170h1v1h-1zM825 169h1v1h-1zM826 169h1v1h-1zM827 168h1v1h-1zM828 167h1v1h-1zM829 167h1v1h-1zM830 166h1v1h-1zM831 166h1v1h-1zM832 166h1v1h-1zM833 166h1v1h-1zM834 166h1v1h-1zM835 166h1v1h-1zM836 166h1v1h-1zM837 165h1v1h-1zM838 165h1v1h-1zM839 165h1v1h-1zM840 164h1v1h-1zM841 164h1v1h-1zM842 164h1v1h-1zM843 163h1v1h-1zM844 163h1v1h-1zM845 162h1v1h-1zM846 162h1v1h-1zM847 162h1v1h-1zM848 162h1v1h-1zM849 162h1v1h-1zM850 162h1v1h-1zM851 162h1v1h-1zM852 162h1v1h-1zM853 162h1v1h-1zM854 162h1v1h-1zM855 163h1v1h-1zM856 163h1v1h-1zM857 164h1v2h-1zM858 166h1v1h-1zM859 167h1v1h-1zM860 168h1v2h-1zM861 170h1v1h-1zM862 171h1v1h-1zM863 172h1v1h-1zM864 173h1v1h-1zM865 174h1v1h-1zM866 175h1v1h-1zM867 176h1v1h-1zM868 177h1v1h-1zM869 178h1v1h-1zM870 179h1v1h-1zM871 180h1v1h-1zM872 181h1v1h-1zM873 182h1v1h-1zM874 183h1v2h-1zM875 185h1v1h-1zM876 186h1v1h-1zM877 187h1v2h-1zM878 189h1v1h-1zM879 190h1v1h-1zM880 191h1v2h-1zM881 193h1v1h-1zM882 194h1v1h-1zM883 195h1v1h-1zM884 196h1v1h-1zM885 197h1v1h-1zM886 198h1v1h-1zM887 199h1v1h-1zM888 200h1v1h-1zM889 201h1v1h-1zM890 202h1v1h-1zM891 203h1v1h-1zM892 204h1v1h-1zM893 205h1v1h-1zM894 206h1v1h-1zM895 207h1v1h-1zM896 208h1v1h-1zM897 209h1v2h-1zM898 211h1v1h-1zM899 212h1v1h-1zM900 213h1v2h-1zM901 215h1v2h-1zM902 217h1v1h-1zM903 218h1v2h-1zM904 220h1v3h-1zM905 223h1v2h-1zM906 225h1v3h-1zM907 228h1v2h-1zM908 230h1v2h-1zM909 232h1v2h-1zM910 234h1v2h-1zM911 236h1v2h-1zM912 238h1v1h-1zM913 239h1v2h-1zM914 241h1v1h-1zM915 242h1v2h-1zM916 244h1v2h-1zM917 246h1v1h-1zM918 247h1v2h-1zM919 249h1v2h-1zM920 251h1v2h-1zM921 253h1v1h-1z" fill="#0000cd" shape-rendering="crispEdges"/>
<path d="M2 352h1v1h-1zM3 350h1v2h-1zM4 348h1v2h-1zM5 346h1v2h-1zM6 344h1v2h-1zM7 342h1v2h-1zM8 341h1v1h-1zM9 339h1v2h-1zM10 337h1v2h-1zM11 335h1v2h-1zM12 333h1v2h-1zM13 331h1v2h-1zM14 329h1v2h-1zM15 328h1v1h-1zM16 326h1v2h-1zM17 324h1v2h-1zM18 322h1v2h-1zM19 321h1v1h-1zM20 319h1v2h-1zM21 317h1v2h-1zM22 315h1v2h-1zM23 313h1v2h-1zM24 311h1v2h-1zM25 308h1v3h-1zM26 305h1v3h-1zM27 301h1v4h-1zM28 297h1v4h-1zM29 292h1v5h-1zM30 288h1v4h-1zM31 284h1v4h-1zM32 281h1v3h-1zM33 279h1v2h-1zM34 277h1v2h-1zM35 276h1v1h-1zM36 274h1v2h-1zM37 272h1v2h-1zM38 271h1v1h-1zM39 269h1v2h-1zM40 268h1v1h-1zM41 267h1v1h-1zM42 266h1v1h-1zM43 265h1v1h-1zM44 264h1v1h-1zM45 263h1v1h-1zM46 262h1v1h-1zM47 262h1v1h-1zM48 261h1v1h-1zM49 261h1v1h-1zM50 260h1v1h-1zM51 260h1v1h-1zM52 259h1v1h-1zM53 258h1v1h-1zM54 258h1v1h-1zM55 257h1v1h-1zM56 256h1v1h-1zM57 254h1v2h-1zM58 252h1v2h-1zM59 251h1v1h-1zM60 250h1v1h-1zM61 249h1v1h-1zM62 249h1v1h-1zM63 249h1v1h-1zM64 250h1v1h-1zM65 251h1v1h-1zM66 252h1v1h-1zM67 252h1v1h-1zM68 252h1v1h-1zM69 252h1v1h-1zM70 253h1v1h-1zM71 254h1v1h-1zM72 255h1v1h-1zM73 256h1v1h-1zM74 257h1v1h-1zM75 258h1v1h-1zM76 259h1v1h-1zM77 260h1v1h-1zM78 261h1v1h-1zM79 262h1v1h-1zM80 262h1v1h-1zM81 263h1v1h-1zM82 264h1v2h-1zM83 266h1v2h-1zM84 268h1v1h-1zM85 269h1v2h-1zM86 271h1v1h-1zM87 272h1v1h-1zM88 273h1v1h-1zM89 274h1v1h-1zM90 275h1v2h-1zM91 277h1v1h-1zM92 278h1v1h-1zM93 278h1v1h-1zM94 279h1v1h-1zM95 279h1v1h-1zM96 280h1v1h-1zM97 280h1v1h-1zM98 280h1v1h-1zM99 280h1v1h-1zM100 280h1v1h-1zM101 280h1v1h-1zM102 280h1v1h-1zM103 280h1v1h-1zM104 280h1v1h-1zM105 280h1v1h-1zM106 280h1v1h-1zM107 281h1v1h-1zM108 281h1v1h-1zM109 282h1v1h-1zM110 283h1v1h-1zM111 283h1v1h-1zM112 284h1v1h-1zM113 284h1v1h-1zM114 285h1v1h-1zM115 285h1v1h-1zM116 285h1v1h-1zM117 285h1v1h-1zM118 285h1v1h-1zM119 285h1v1h-1zM120 285h1v1h-1zM121 285h1v1h-1zM122 284h1v1h-1zM123 283h1v1h-1zM124 282h1v1h-1zM125 281h1v1h-1zM126 280h1v1h-1zM127 278h1v2h-1zM128 277h1v1h-1zM129 275h1v2h-1zM130 274h1v1h-1zM131 272h1v2h-1zM132 270h1v2h-1zM133 268h1v2h-1zM134 266h1v2h-1zM135 263h1v3h-1zM136 260h1v3h-1zM137 257h1v3h-1zM138 254h1v3h-1zM139 251h1v3h-1zM140 248h1v3h-1zM141 245h1v3h-1zM142 242h1v3h-1zM143 239h1v3h-1zM144 235h1v4h-1zM145 233h1v2h-1zM146 232h1v1h-1zM147 231h1v1h-1zM148 230h1v1h-1zM149 229h1v1h-1zM150 229h1v1h-1zM151 228h1v1h-1zM152 228h1v1h-1zM153 228h1v1h-1zM154 227h1v1h-1zM155 227h1v1h-1zM156 227h1v1h-1zM157 227h1v1h-1zM158 226h1v1h-1zM159 226h1v1h-1zM160 225h1v1h-1zM161 222h1v3h-1zM162 220h1v2h-1zM163 219h1v1h-1zM164 218h1v1h-1zM165 217h1v1h-1zM166 216h1v1h-1zM167 215h1v1h-1zM168 214h1v1h-1zM169 213h1v1h-1zM170 213h1v1h-1zM171 212h1v1h-1zM172 211h1v1h-1zM173 210h1v1h-1zM174 209h1v1h-1zM175 208h1v1h-1zM176 207h1v1h-1zM177 206h1v1h-1zM178 206h1v1h-1zM179 205h1v1h-1zM180 205h1v1h-1zM181 204h1v1h-1zM182 204h1v1h-1zM183 204h1v1h-1zM184 204h1v1h-1zM185 204h1v1h-1zM186 205h1v1h-1zM187 206h1v1h-1zM188 207h1v2h-1zM189 209h1v1h-1zM190 210h1v2h-1zM191 212h1v3h-1zM192 215h1v3h-1zM193 218h1v4h-1zM194 222h1v4h-1zM195 226h1v3h-1zM196 229h1v3h-1zM197 232h1v2h-1zM198 234h1v3h-1zM199 237h1v2h-1zM200 239h1v2h-1zM201 241h1v1h-1zM202 242h1v1h-1zM203 242h1v1h-1zM204 242h1v1h-1zM205 241h1v1h-1zM206 241h1v1h-1zM207 240h1v1h-1zM208 239h1v1h-1zM209 239h1v1h-1zM210 238h1v1h-1zM211 237h1v1h-1zM212 237h1v1h-1zM213 236h1v1h-1zM214 236h1v1h-1zM215 236h1v1h-1zM216 236h1v1h-1zM217 236h1v1h-1zM218 235h1v1h-1zM219 235h1v1h-1zM220 235h1v1h-1zM221 235h1v1h-1zM222 235h1v1h-1zM223 235h1v1h-1zM224 234h1v1h-1zM225 234h1v1h-1zM226 233h1v1h-1zM227 232h1v1h-1zM228 231h1v1h-1zM229 231h1v1h-1zM230 230h1v1h-1zM231 230h1v1h-1zM232 230h1v1h-1zM233 229h1v1h-1zM234 228h1v1h-1zM235 226h1v2h-1zM236 225h1v1h-1zM237 224h1v1h-1zM238 222h1v2h-1zM239 221h1v1h-1zM240 219h1v2h-1zM241 217h1v2h-1zM242 214h1v3h-1zM243 211h1v3h-1zM244 208h1v3h-1zM245 205h1v3h-1zM246 202h1v3h-1zM247 200h1v2h-1zM248 197h1v3h-1zM249 194h1v3h-1zM250 192h1v2h-1zM251 190h1v2h-1zM252 188h1v2h-1zM253 186h1v2h-1zM254 185h1v1h-1zM255 184h1v1h-1zM256 184h1v1h-1zM257 184h1v1h-1zM258 184h1v1h-1zM259 184h1v1h-1zM260 184h1v1h-1zM261 184h1v1h-1zM262 185h1v1h-1zM263 185h1v1h-1zM264 186h1v1h-1zM265 186h1v1h-1zM266 187h1v1h-1zM267 187h1v1h-1zM268 187h1v1h-1zM269 187h1v1h-1zM270 188h1v1h-1zM271 188h1v1h-1zM272 188h1v1h-1zM273 188h1v1h-1zM274 188h1v1h-1zM275 187h1v1h-1zM276 186h1v1h-1zM277 185h1v1h-1zM278 184h1v1h-1zM279 183h1v1h-1zM280 183h1v1h-1zM281 182h1v1h-1zM282 182h1v1h-1zM283 182h1v1h-1zM284 182h1v1h-1zM285 182h1v1h-1zM286 182h1v1h-1zM287 182h1v1h-1zM288 182h1v1h-1zM289 183h1v1h-1zM290 184h1v1h-1zM291 185h1v1h-1zM292 186h1v2h-1zM293 188h1v1h-1zM294 189h1v2h-1zM295 191h1v2h-1zM296 193h1v1h-1zM297 194h1v2h-1zM298 196h1v2h-1zM299 198h1v2h-1zM300 200h1v2h-1zM301 202h1v2h-1zM302 204h1v3h-1zM303 207h1v2h-1zM304 209h1v2h-1zM305 211h1v2h-1zM306 213h1v3h-1zM307 216h1v3h-1zM308 219h1v3h-1zM309 222h1v3h-1zM310 225h1v3h-1zM311 228h1v3h-1zM312 231h1v3h-1zM313 234h1v1h-1zM314 235h1v2h-1zM315 237h1v2h-1zM316 239h1v1h-1zM317 240h1v2h-1zM318 242h1v1h-1zM319 243h1v2h-1zM320 245h1v1h-1zM321 246h1v1h-1zM322 247h1v2h-1zM323 249h1v2h-1zM324 251h1v1h-1zM325 252h1v2h-1zM326 254h1v2h-1zM327 256h1v3h-1zM328 259h1v2h-1zM329 261h1v3h-1zM330 264h1v2h-1zM331 266h1v3h-1zM332 269h1v3h-1zM333 272h1v3h-1zM334 275h1v4h-1zM335 279h1v3h-1zM336 282h1v3h-1zM337 285h1v4h-1zM338 289h1v3h-1zM339 292h1v4h-1zM340 296h1v3h-1zM341 299h1v3h-1zM342 302h1v3h-1zM343 305h1v3h-1zM344 308h1v3h-1zM345 311h1v2h-1zM346 313h1v3h-1zM347 316h1v2h-1zM348 318h1v3h-1zM349 321h1v2h-1zM350 323h1v2h-1zM351 325h1v3h-1zM352 328h1v2h-1zM353 330h1v3h-1zM354 333h1v2h-1zM355 335h1v2h-1zM356 337h1v2h-1zM357 339h1v3h-1zM358 342h1v2h-1zM359 344h1v2h-1zM360 346h1v1h-1zM361 347h1v1h-1zM362 348h1v1h-1zM363 348h1v1h-1zM364 349h1v1h-1zM365 349h1v1h-1zM366 349h1v1h-1zM367 350h1v1h-1zM368 350h1v1h-1zM369 351h1v1h-1zM370 352h1v1h-1zM371 353h1v1h-1zM372 354h1v2h-1zM373 356h1v2h-1zM374 358h1v2h-1zM375 360h1v1h-1zM376 361h1v1h-1zM377 362h1v1h-1zM378 363h1v1h-1zM379 364h1v1h-1zM380 364h1v1h-1zM381 365h1v1h-1zM382 365h1v1h-1zM383 365h1v1h-1zM384 365h1v1h-1zM385 365h1v1h-1zM386 365h1v1h-1zM387 365h1v1h-1zM388 365h1v1h-1zM389 365h1v1h-1zM390 365h1v1h-1zM391 365h1v1h-1zM392 365h1v1h-1zM393 365h1v1h-1zM394 365h1v1h-1zM395 365h1v1h-1zM396 365h1v1h-1zM397 365h1v1h-1zM398 365h1v1h-1zM399 364h1v1h-1zM400 363h1v1h-1zM401 362h1v1h-1zM402 361h1v1h-1zM403 359h1v2h-1zM404 358h1v1h-1zM405 357h1v1h-1zM406 355h1v2h-1zM407 354h1v1h-1zM408 353h1v1h-1zM409 352h1v1h-1zM410 351h1v1h-1zM411 350h1v1h-1zM412 349h1v1h-1zM413 349h1v1h-1zM414 348h1v1h-1zM415 348h1v1h-1zM416 347h1v1h-1zM417 346h1v1h-1zM418 345h1v1h-1zM419 345h1v1h-1zM420 344h1v1h-1zM421 343h1v1h-1zM422 342h1v1h-1zM423 340h1v2h-1zM424 338h1v2h-1zM425 336h1v2h-1zM426 334h1v2h-1zM427 333h1v1h-1zM428 331h1v2h-1zM429 329h1v2h-1zM430 327h1v2h-1zM431 325h1v2h-1zM432 323h1v2h-1zM433 322h1v1h-1zM434 320h1v2h-1zM435 319h1v1h-1zM436 318h1v1h-1zM437 316h1v2h-1zM438 315h1v1h-1zM439 314h1v1h-1zM440 312h1v2h-1zM441 311h1v1h-1zM442 309h1v2h-1zM443 307h1v2h-1zM444 304h1v3h-1zM445 302h1v2h-1zM446 300h1v2h-1zM447 298h1v2h-1zM448 295h1v3h-1zM449 293h1v2h-1zM450 291h1v2h-1zM451 289h1v2h-1zM452 286h1v3h-1zM453 284h1v2h-1zM454 282h1v2h-1zM455 280h1v2h-1zM456 277h1v3h-1zM457 275h1v2h-1zM458 273h1v2h-1zM459 271h1v2h-1zM460 269h1v2h-1zM461 267h1v2h-1zM462 265h1v2h-1zM463 263h1v2h-1zM464 260h1v3h-1zM465 258h1v2h-1zM466 255h1v3h-1zM467 253h1v2h-1zM468 250h1v3h-1zM469 247h1v3h-1zM470 245h1v2h-1zM471 243h1v2h-1zM472 240h1v3h-1zM473 238h1v2h-1zM474 236h1v2h-1zM475 235h1v1h-1zM476 233h1v2h-1zM477 231h1v2h-1zM478 229h1v2h-1zM479 227h1v2h-1zM480 226h1v1h-1zM481 223h1v3h-1zM482 221h1v2h-1zM483 219h1v2h-1zM484 217h1v2h-1zM485 215h1v2h-1zM486 213h1v2h-1zM487 211h1v2h-1zM488 209h1v2h-1zM489 207h1v2h-1zM490 205h1v2h-1zM491 202h1v3h-1zM492 200h1v2h-1zM493 198h1v2h-1zM494 195h1v3h-1zM495 192h1v3h-1zM496 190h1v2h-1zM497 187h1v3h-1zM498 185h1v2h-1zM499 183h1v2h-1zM500 180h1v3h-1zM501 178h1v2h-1zM502 177h1v1h-1zM503 175h1v2h-1zM504 173h1v2h-1zM505 171h1v2h-1zM506 169h1v2h-1zM507 168h1v1h-1zM508 167h1v1h-1zM509 166h1v1h-1zM510 165h1v1h-1zM511 164h1v1h-1zM512 164h1v1h-1zM513 164h1v1h-1zM514 164h1v1h-1zM515 165h1v1h-1zM516 165h1v1h-1zM517 165h1v1h-1zM518 165h1v1h-1zM519 165h1v1h-1zM520 165h1v1h-1zM521 165h1v1h-1zM522 165h1v1h-1zM523 164h1v1h-1zM524 164h1v1h-1zM525 164h1v1h-1zM526 163h1v1h-1zM527 163h1v1h-1zM528 162h1v1h-1zM529 162h1v1h-1zM530 161h1v1h-1zM531 160h1v1h-1zM532 160h1v1h-1zM533 159h1v1h-1zM534 158h1v1h-1zM535 157h1v1h-1zM536 156h1v1h-1zM537 155h1v1h-1zM538 154h1v1h-1zM539 153h1v1h-1zM540 152h1v1h-1zM541 151h1v1h-1zM542 150h1v1h-1zM543 150h1v1h-1zM544 150h1v1h-1zM545 150h1v1h-1zM546 149h1v1h-1zM547 149h1v1h-1zM548 149h1v1h-1zM549 149h1v1h-1zM550 148h1v1h-1zM551 148h1v1h-1zM552 147h1v1h-1zM553 146h1v1h-1zM554 145h1v1h-1zM555 144h1v1h-1zM556 143h1v1h-1zM557 142h1v1h-1zM558 141h1v1h-1zM559 139h1v2h-1zM560 138h1v1h-1zM561 137h1v1h-1zM562 136h1v1h-1zM563 136h1v1h-1zM564 135h1v1h-1zM565 134h1v1h-1zM566 133h1v1h-1zM567 132h1v1h-1zM568 129h1v3h-1zM569 127h1v2h-1zM570 125h1v2h-1zM571 124h1v1h-1zM572 122h1v2h-1zM573 121h1v1h-1zM574 120h1v1h-1zM575 119h1v1h-1zM576 118h1v1h-1zM577 117h1v1h-1zM578 116h1v1h-1zM579 115h1v1h-1zM580 114h1v1h-1zM581 114h1v1h-1zM582 113h1v1h-1zM583 112h1v1h-1zM584 111h1v1h-1zM585 110h1v1h-1zM586 110h1v1h-1zM587 110h1v1h-1zM588 110h1v1h-1zM589 110h1v1h-1zM590 110h1v1h-1zM591 111h1v1h-1zM592 112h1v2h-1zM593 114h1v2h-1zM594 116h1v1h-1zM595 117h1v2h-1zM596 119h1v3h-1zM597 122h1v1h-1zM598 123h1v1h-1zM599 124h1v1h-1zM600 125h1v1h-1zM601 126h1v1h-1zM602 127h1v1h-1zM603 128h1v1h-1zM604 129h1v2h-1zM605 131h1v2h-1zM606 133h1v1h-1zM607 134h1v2h-1zM608 136h1v2h-1zM609 138h1v2h-1zM610 140h1v1h-1zM611 141h1v2h-1zM612 143h1v2h-1zM613 145h1v2h-1zM614 147h1v2h-1zM615 149h1v3h-1zM616 152h1v2h-1zM617 154h1v1h-1zM618 155h1v2h-1zM619 157h1v2h-1zM620 159h1v1h-1zM621 160h1v2h-1zM622 162h1v1h-1zM623 163h1v2h-1zM624 165h1v2h-1zM625 167h1v1h-1zM626 168h1v2h-1zM627 170h1v2h-1zM628 172h1v1h-1zM629 173h1v2h-1zM630 175h1v2h-1zM631 177h1v2h-1zM632 179h1v1h-1zM633 180h1v2h-1zM634 182h1v3h-1zM635 185h1v2h-1zM636 187h1v2h-1zM637 189h1v3h-1zM638 192h1v3h-1zM639 195h1v2h-1zM640 197h1v3h-1zM641 200h1v2h-1zM642 202h1v3h-1zM643 205h1v2h-1zM644 207h1v2h-1zM645 209h1v3h-1zM646 212h1v2h-1zM647 214h1v2h-1zM648 216h1v2h-1zM649 218h1v2h-1zM650 220h1v2h-1zM651 222h1v2h-1zM652 224h1v2h-1zM653 226h1v1h-1zM654 227h1v2h-1zM655 229h1v2h-1zM656 231h1v2h-1zM657 233h1v1h-1zM658 234h1v2h-1zM659 236h1v2h-1zM660 238h1v2h-1zM661 240h1v2h-1zM662 242h1v3h-1zM663 245h1v1h-1zM664 246h1v2h-1zM665 248h1v2h-1zM666 250h1v2h-1zM667 252h1v2h-1zM668 254h1v2h-1zM669 256h1v2h-1zM670 258h1v2h-1zM671 260h1v2h-1zM672 262h1v2h-1zM673 264h1v1h-1zM674 265h1v1h-1zM675 265h1v1h-1zM676 265h1v1h-1zM677 265h1v1h-1zM678 265h1v1h-1zM679 265h1v1h-1zM680 266h1v1h-1zM681 266h1v1h-1zM682 266h1v1h-1zM683 266h1v1h-1zM684 266h1v1h-1zM685 266h1v1h-1zM686 266h1v1h-1zM687 266h1v1h-1zM688 264h1v2h-1zM689 262h1v2h-1zM690 260h1v2h-1zM691 257h1v3h-1zM692 255h1v2h-1zM693 252h1v3h-1zM694 250h1v2h-1zM695 248h1v2h-1zM696 246h1v2h-1zM697 244h1v2h-1zM698 242h1v2h-1zM699 240h1v2h-1zM700 238h1v2h-1zM701 236h1v2h-1zM702 235h1v1h-1zM703 233h1v2h-1zM704 232h1v1h-1zM705 230h1v2h-1zM706 229h1v1h-1zM707 227h1v2h-1zM708 226h1v1h-1zM709 224h1v2h-1zM710 222h1v2h-1zM711 220h1v2h-1zM712 219h1v1h-1zM713 217h1v2h-1zM714 215h1v2h-1zM715 213h1v2h-1zM716 211h1v2h-1zM717 208h1v3h-1zM718 206h1v2h-1zM719 203h1v3h-1zM720 201h1v2h-1zM721 199h1v2h-1zM722 196h1v3h-1zM723 194h1v2h-1zM724 193h1v1h-1zM725 192h1v1h-1zM726 192h1v1h-1zM727 191h1v1h-1zM728 191h1v1h-1zM729 190h1v1h-1zM730 189h1v1h-1zM731 188h1v1h-1zM732 187h1v1h-1zM733 186h1v1h-1zM734 185h1v1h-1zM735 184h1v1h-1zM736 183h1v1h-1zM737 182h1v1h-1zM738 180h1v2h-1zM739 179h1v1h-1zM740 178h1v1h-1zM741 177h1v1h-1zM742 177h1v1h-1zM743 177h1v1h-1zM744 177h1v1h-1zM745 178h1v1h-1zM746 178h1v1h-1zM747 179h1v1h-1zM748 179h1v1h-1zM749 180h1v1h-1zM750 180h1v1h-1zM751 181h1v1h-1zM752 181h1v1h-1zM753 181h1v1h-1zM754 181h1v1h-1zM755 182h1v1h-1zM756 182h1v1h-1zM757 182h1v1h-1zM758 182h1v1h-1zM759 182h1v1h-1zM760 182h1v1h-1zM761 182h1v1h-1zM762 181h1v1h-1zM763 181h1v1h-1zM764 180h1v1h-1zM765 179h1v1h-1zM766 178h1v1h-1zM767 178h1v1h-1zM768 177h1v1h-1zM769 177h1v1h-1zM770 177h1v1h-1zM771 177h1v1h-1zM772 177h1v1h-1zM773 177h1v1h-1zM774 177h1v1h-1zM775 177h1v1h-1zM776 176h1v1h-1zM777 176h1v1h-1zM778 175h1v1h-1zM779 175h1v1h-1zM780 174h1v1h-1zM781 173h1v1h-1zM782 173h1v1h-1zM783 172h1v1h-1zM784 171h1v1h-1zM785 171h1v1h-1zM786 170h1v1h-1zM787 170h1v1h-1zM788 169h1v1h-1zM789 169h1v1h-1zM790 168h1v1h-1zM791 168h1v1h-1zM792 168h1v1h-1zM793 168h1v1h-1zM794 168h1v1h-1zM795 168h1v1h-1zM796 168h1v1h-1zM797 168h1v1h-1zM798 169h1v1h-1zM799 169h1v1h-1zM800 170h1v1h-1zM801 170h1v1h-1zM802 170h1v1h-1zM803 170h1v1h-1zM804 171h1v1h-1zM805 171h1v1h-1zM806 172h1v1h-1zM807 173h1v1h-1zM808 174h1v1h-1zM809 174h1v1h-1zM810 175h1v1h-1zM811 175h1v1h-1zM812 175h1v1h-1zM813 174h1v1h-1zM814 174h1v1h-1zM815 174h1v1h-1zM816 173h1v1h-1zM817 173h1v1h-1zM818 172h1v1h-1zM819 172h1v1h-1zM820 171h1v1h-1zM821 171h1v1h-1zM822 170h1v1h-1zM823 169h1v1h-1zM824 168h1v1h-1zM825 167h1v1h-1zM826 166h1v1h-1zM827 165h1v1h-1zM828 164h1v1h-1zM829 164h1v1h-1zM830 164h1v1h-1zM831 164h1v1h-1zM832 164h1v1h-1zM833 164h1v1h-1zM834 164h1v1h-1zM835 164h1v1h-1zM836 165h1v1h-1zM837 165h1v1h-1zM838 165h1v1h-1zM839 165h1v1h-1zM840 164h1v1h-1zM841 164h1v1h-1zM842 163h1v1h-1zM843 162h1v1h-1zM844 162h1v1h-1zM845 162h1v1h-1zM846 162h1v1h-1zM847 162h1v1h-1zM848 162h1v1h-1zM849 162h1v1h-1zM850 162h1v1h-1zM851 162h1v1h-1zM852 162h1v1h-1zM853 162h1v1h-1zM854 163h1v1h-1zM855 163h1v1h-1zM856 164h1v1h-1zM857 165h1v1h-1zM858 165h1v1h-1zM859 166h1v1h-1zM860 166h1v1h-1zM861 167h1v1h-1zM862 167h1v1h-1zM863 167h1v1h-1zM864 168h1v1h-1zM865 169h1v1h-1zM866 169h1v1h-1zM867 170h1v1h-1zM868 171h1v1h-1zM869 172h1v2h-1zM870 174h1v1h-1zM871 175h1v2h-1zM872 177h1v2h-1zM873 179h1v2h-1zM874 181h1v1h-1zM875 182h1v2h-1zM876 184h1v2h-1zM877 186h1v2h-1zM878 188h1v2h-1zM879 190h1v3h-1zM880 193h1v4h-1zM881 197h1v4h-1zM882 201h1v3h-1zM883 204h1v4h-1zM884 208h1v3h-1zM885 211h1v3h-1zM886 214h1v4h-1zM887 218h1v3h-1zM888 221h1v3h-1zM889 224h1v3h-1zM890 227h1v3h-1zM891 230h1v2h-1zM892 232h1v1h-1zM893 233h1v2h-1zM894 235h1v1h-1zM895 236h1v2h-1zM896 238h1v2h-1zM897 240h1v2h-1zM898 242h1v3h-1zM899 245h1v4h-1zM900 249h1v3h-1zM901 252h1v3h-1zM902 255h1v3h-1zM903 258h1v3h-1zM904 261h1v2h-1zM905 263h1v3h-1zM906 266h1v2h-1zM907 268h1v2h-1zM908 270h1v3h-1zM909 273h1v1h-1zM910 274h1v2h-1zM911 276h1v1h-1zM912 277h1v1h-1zM913 278h1v1h-1zM914 278h1v1h-1zM915 279h1v1h-1zM916 280h1v2h-1zM917 282h1v1h-1zM918 283h1v1h-1zM919 284h1v1h-1zM920 285h1v1h-1zM921 286h1v1h-1z" fill="#ff0000" shape-rendering="crispEdges"/>
<path d="M1 440h1v1h-1zM2 440h1v1h-1zM3 440h1v1h-1zM4 440h1v1h-1zM5 440h1v1h-1zM6 440h1v1h-1zM7 440h1v1h-1zM8 440h1v1h-1zM9 440h1v1h-1zM10 440h1v1h-1zM11 440h1v1h-1zM12 440h1v1h-1zM13 439h1v1h-1zM14 439h1v1h-1zM15 438h1v1h-1zM16 438h1v1h-1zM17 438h1v1h-1zM18 437h1v1h-1zM19 437h1v1h-1zM20 437h1v1h-1zM21 436h1v1h-1zM22 436h1v1h-1zM23 436h1v1h-1zM24 436h1v1h-1zM25 435h1v1h-1zM26 435h1v1h-1zM27 435h1v1h-1zM28 435h1v1h-1zM29 434h1v1h-1zM30 434h1v1h-1zM31 434h1v1h-1zM32 434h1v1h-1zM33 433h1v1h-1zM34 433h1v1h-1zM35 433h1v1h-1zM36 432h1v1h-1zM37 432h1v1h-1zM38 432h1v1h-1zM39 432h1v1h-1zM40 432h1v1h-1zM41 432h1v1h-1zM42 432h1v1h-1zM43 432h1v1h-1zM44 432h1v1h-1zM45 432h1v1h-1zM46 432h1v1h-1zM47 432h1v1h-1zM48 432h1v1h-1zM49 432h1v1h-1zM50 432h1v1h-1zM51 432h1v1h-1zM52 432h1v1h-1zM53 432h1v1h-1zM54 432h1v1h-1zM55 432h1v1h-1zM56 432h1v1h-1zM57 432h1v1h-1zM58 432h1v1h-1zM59 432h1v1h-1zM60 432h1v1h-1zM61 432h1v1h-1zM62 432h1v1h-1zM63 433h1v1h-1zM64 433h1v1h-1zM65 434h1v1h-1zM66 435h1v1h-1zM67 436h1v1h-1zM68 436h1v1h-1zM69 437h1v1h-1zM70 438h1v1h-1zM71 438h1v1h-1zM72 439h1v1h-1zM73 440h1v1h-1zM74 440h1v1h-1zM75 441h1v1h-1zM76 442h1v1h-1zM77 442h1v1h-1zM78 443h1v1h-1zM79 444h1v1h-1zM80 444h1v1h-1zM81 445h1v1h-1zM82 445h1v1h-1zM83 446h1v1h-1zM84 446h1v1h-1zM85 447h1v1h-1zM86 447h1v1h-1zM87 448h1v1h-1zM88 448h1v1h-1zM89 449h1v1h-1zM90 449h1v1h-1zM91 449h1v1h-1zM92 450h1v1h-1zM93 450h1v1h-1zM94 451h1v1h-1zM95 451h1v1h-1zM96 451h1v1h-1zM97 452h1v1h-1zM98 452h1v1h-1zM99 452h1v1h-1zM100 452h1v1h-1zM101 452h1v1h-1zM102 452h1v1h-1zM103 453h1v1h-1zM104 453h1v1h-1zM105 453h1v1h-1zM106 453h1v1h-1zM107 453h1v1h-1zM108 453h1v1h-1zM109 453h1v1h-1zM110 453h1v1h-1zM111 453h1v1h-1zM112 453h1v1h-1zM113 453h1v1h-1zM114 454h1v1h-1zM115 454h1v1h-1zM116 454h1v1h-1zM117 454h1v1h-1zM118 454h1v1h-1zM119 455h1v1h-1zM120 455h1v1h-1zM121 455h1v1h-1zM122 455h1v1h-1zM123 455h1v1h-1zM124 455h1v1h-1zM125 455h1v1h-1zM126 455h1v1h-1zM127 455h1v1h-1zM128 455h1v1h-1zM129 455h1v1h-1zM130 455h1v1h-1zM131 455h1v1h-1zM132 455h1v1h-1zM133 455h1v1h-1zM134 455h1v1h-1zM135 455h1v1h-1zM136 455h1v1h-1zM137 454h1v1h-1zM138 454h1v1h-1zM139 453h1v1h-1zM140 453h1v1h-1zM141 452h1v1h-1zM142 452h1v1h-1zM143 451h1v1h-1zM144 451h1v1h-1zM145 450h1v1h-1zM146 449h1v1h-1zM147 449h1v1h-1zM148 449h1v1h-1zM149 448h1v1h-1zM150 448h1v1h-1zM151 447h1v1h-1zM152 447h1v1h-1zM153 446h1v1h-1zM154 446h1v1h-1zM155 446h1v1h-1zM156 445h1v1h-1zM157 445h1v1h-1zM158 444h1v1h-1zM159 444h1v1h-1zM160 444h1v1h-1zM161 443h1v1h-1zM162 443h1v1h-1zM163 443h1v1h-1zM164 443h1v1h-1zM165 443h1v1h-1zM166 443h1v1h-1zM167 443h1v1h-1zM168 443h1v1h-1zM169 443h1v1h-1zM170 443h1v1h-1zM171 443h1v1h-1zM172 443h1v1h-1zM173 443h1v1h-1zM174 443h1v1h-1zM175 443h1v1h-1zM176 443h1v1h-1zM177 443h1v1h-1zM178 444h1v1h-1zM179 444h1v1h-1zM180 445h1v1h-1zM181 446h1v1h-1zM182 446h1v1h-1zM183 447h1v1h-1zM184 447h1v1h-1zM185 448h1v1h-1zM186 449h1v1h-1zM187 449h1v1h-1zM188 450h1v1h-1zM189 450h1v1h-1zM190 451h1v1h-1zM191 451h1v1h-1zM192 452h1v1h-1zM193 452h1v1h-1zM194 453h1v1h-1zM195 453h1v1h-1zM196 454h1v1h-1zM197 454h1v1h-1zM198 455h1v1h-1zM199 455h1v1h-1zM200 455h1v1h-1zM201 456h1v1h-1zM202 456h1v1h-1zM203 456h1v1h-1zM204 456h1v1h-1zM205 457h1v1h-1zM206 457h1v1h-1zM207 458h1v1h-1zM208 458h1v1h-1zM209 458h1v1h-1zM210 458h1v1h-1zM211 458h1v1h-1zM212 459h1v1h-1zM213 459h1v1h-1zM214 459h1v1h-1zM215 459h1v1h-1zM216 459h1v1h-1zM217 459h1v1h-1zM218 459h1v1h-1zM219 459h1v1h-1zM220 459h1v1h-1zM221 459h1v1h-1zM222 459h1v1h-1zM223 459h1v1h-1zM224 459h1v1h-1zM225 458h1v1h-1zM226 458h1v1h-1zM227 458h1v1h-1zM228 458h1v1h-1zM229 458h1v1h-1zM230 457h1v1h-1zM231 457h1v1h-1zM232 456h1v1h-1zM233 456h1v1h-1zM234 456h1v1h-1zM235 455h1v1h-1zM236 455h1v1h-1zM237 455h1v1h-1zM238 454h1v1h-1zM239 454h1v1h-1zM240 454h1v1h-1zM241 454h1v1h-1zM242 453h1v1h-1zM243 453h1v1h-1zM244 453h1v1h-1zM245 452h1v1h-1zM246 452h1v1h-1zM247 452h1v1h-1zM248 452h1v1h-1zM249 451h1v1h-1zM250 451h1v1h-1zM251 451h1v1h-1zM252 450h1v1h-1zM253 450h1v1h-1zM254 450h1v1h-1zM255 450h1v1h-1zM256 450h1v1h-1zM257 450h1v1h-1zM258 450h1v1h-1zM259 449h1v1h-1zM260 449h1v1h-1zM261 449h1v1h-1zM262 449h1v1h-1zM263 449h1v1h-1zM264 449h1v1h-1zM265 449h1v1h-1zM266 449h1v1h-1zM267 449h1v1h-1zM268 449h1v1h-1zM269 449h1v1h-1zM270 449h1v1h-1zM271 449h1v1h-1zM272 449h1v1h-1zM273 449h1v1h-1zM274 449h1v1h-1zM275 449h1v1h-1zM276 449h1v1h-1zM277 449h1v1h-1zM278 449h1v1h-1zM279 450h1v1h-1zM280 450h1v1h-1zM281 450h1v1h-1zM282 451h1v1h-1zM283 451h1v1h-1zM284 451h1v1h-1zM285 452h1v1h-1zM286 452h1v1h-1zM287 452h1v1h-1zM288 453h1v1h-1zM289 453h1v1h-1zM290 454h1v1h-1zM291 454h1v1h-1zM292 455h1v1h-1zM293 455h1v1h-1zM294 455h1v1h-1zM295 456h1v1h-1zM296 456h1v1h-1zM297 456h1v1h-1zM298 457h1v1h-1zM299 457h1v1h-1zM300 457h1v1h-1zM301 458h1v1h-1zM302 458h1v1h-1zM303 459h1v1h-1zM304 459h1v1h-1zM305 459h1v1h-1zM306 460h1v1h-1zM307 460h1v1h-1zM308 461h1v1h-1zM309 461h1v1h-1zM310 462h1v1h-1zM311 462h1v1h-1zM312 463h1v1h-1zM313 463h1v1h-1zM314 464h1v1h-1zM315 464h1v1h-1zM316 465h1v1h-1zM317 465h1v1h-1zM318 466h1v1h-1zM319 466h1v1h-1zM320 467h1v1h-1zM321 467h1v1h-1zM322 468h1v1h-1zM323 469h1v1h-1zM324 469h1v1h-1zM325 470h1v1h-1zM326 471h1v1h-1zM327 471h1v1h-1zM328 472h1v1h-1zM329 473h1v1h-1zM330 473h1v1h-1zM331 474h1v1h-1zM332 474h1v1h-1zM333 475h1v1h-1zM334 476h1v1h-1zM335 476h1v1h-1zM336 477h1v1h-1zM337 477h1v1h-1zM338 478h1v1h-1zM339 478h1v1h-1zM340 479h1v1h-1zM341 479h1v1h-1zM342 480h1v1h-1zM343 480h1v1h-1zM344 481h1v1h-1zM345 481h1v1h-1zM346 482h1v1h-1zM347 482h1v1h-1zM348 483h1v1h-1zM349 483h1v1h-1zM350 483h1v1h-1zM351 484h1v1h-1zM352 484h1v1h-1zM353 484h1v1h-1zM354 485h1v1h-1zM355 485h1v1h-1zM356 486h1v1h-1zM357 486h1v1h-1zM358 486h1v1h-1zM359 486h1v1h-1zM360 486h1v1h-1zM361 487h1v1h-1zM362 487h1v1h-1zM363 487h1v1h-1zM364 487h1v1h-1zM365 487h1v1h-1zM366 487h1v1h-1zM367 487h1v1h-1zM368 487h1v1h-1zM369 487h1v1h-1zM370 487h1v1h-1zM371 487h1v1h-1zM372 487h1v1h-1zM373 487h1v1h-1zM374 487h1v1h-1zM375 487h1v1h-1zM376 487h1v1h-1zM377 487h1v1h-1zM378 486h1v1h-1zM379 486h1v1h-1zM380 486h1v1h-1zM381 486h1v1h-1zM382 485h1v1h-1zM383 485h1v1h-1zM384 485h1v1h-1zM385 484h1v1h-1zM386 484h1v1h-1zM387 484h1v1h-1zM388 483h1v1h-1zM389 483h1v1h-1zM390 483h1v1h-1zM391 482h1v1h-1zM392 482h1v1h-1zM393 482h1v1h-1zM394 481h1v1h-1zM395 481h1v1h-1zM396 481h1v1h-1zM397 480h1v1h-1zM398 480h1v1h-1zM399 480h1v1h-1zM400 479h1v1h-1zM401 479h1v1h-1zM402 479h1v1h-1zM403 479h1v1h-1zM404 478h1v1h-1zM405 478h1v1h-1zM406 477h1v1h-1zM407 477h1v1h-1zM408 477h1v1h-1zM409 476h1v1h-1zM410 476h1v1h-1zM411 475h1v1h-1zM412 475h1v1h-1zM413 475h1v1h-1zM414 474h1v1h-1zM415 474h1v1h-1zM416 473h1v1h-1zM417 473h1v1h-1zM418 472h1v1h-1zM419 472h1v1h-1zM420 471h1v1h-1zM421 471h1v1h-1zM422 470h1v1h-1zM423 470h1v1h-1zM424 469h1v1h-1zM425 468h1v1h-1zM426 468h1v1h-1zM427 467h1v1h-1zM428 467h1v1h-1zM429 466h1v1h-1zM430 466h1v1h-1zM431 465h1v1h-1zM432 465h1v1h-1zM433 464h1v1h-1zM434 463h1v1h-1zM435 463h1v1h-1zM436 462h1v1h-1zM437 462h1v1h-1zM438 461h1v1h-1zM439 461h1v1h-1zM440 460h1v1h-1zM441 460h1v1h-1zM442 459h1v1h-1zM443 459h1v1h-1zM444 458h1v1h-1zM445 457h1v1h-1zM446 457h1v1h-1zM447 457h1v1h-1zM448 456h1v1h-1zM449 456h1v1h-1zM450 455h1v1h-1zM451 455h1v1h-1zM452 454h1v1h-1zM453 454h1v1h-1zM454 453h1v1h-1zM455 452h1v1h-1zM456 452h1v1h-1zM457 451h1v1h-1zM458 450h1v1h-1zM459 450h1v1h-1zM460 449h1v1h-1zM461 449h1v1h-1zM462 448h1v1h-1zM463 448h1v1h-1zM464 448h1v1h-1zM465 447h1v1h-1zM466 447h1v1h-1zM467 447h1v1h-1zM468 446h1v1h-1zM469 446h1v1h-1zM470 446h1v1h-1zM471 445h1v1h-1zM472 445h1v1h-1zM473 445h1v1h-1zM474 444h1v1h-1zM475 444h1v1h-1zM476 443h1v1h-1zM477 443h1v1h-1zM478 442h1v1h-1zM479 442h1v1h-1zM480 442h1v1h-1zM481 441h1v1h-1zM482 441h1v1h-1zM483 441h1v1h-1zM484 440h1v1h-1zM485 440h1v1h-1zM486 440h1v1h-1zM487 440h1v1h-1zM488 439h1v1h-1zM489 439h1v1h-1zM490 439h1v1h-1zM491 438h1v1h-1zM492 438h1v1h-1zM493 438h1v1h-1zM494 437h1v1h-1zM495 437h1v1h-1zM496 436h1v1h-1zM497 436h1v1h-1zM498 436h1v1h-1zM499 435h1v1h-1zM500 435h1v1h-1zM501 435h1v1h-1zM502 435h1v1h-1zM503 434h1v1h-1zM504 434h1v1h-1zM505 434h1v1h-1zM506 434h1v1h-1zM507 434h1v1h-1zM508 434h1v1h-1zM509 434h1v1h-1zM510 434h1v1h-1zM511 434h1v1h-1zM512 434h1v1h-1zM513 434h1v1h-1zM514 434h1v1h-1zM515 434h1v1h-1zM516 434h1v1h-1zM517 434h1v1h-1zM518 434h1v1h-1zM519 434h1v1h-1zM520 434h1v1h-1zM521 434h1v1h-1zM522 434h1v1h-1zM523 435h1v1h-1zM524 435h1v1h-1zM525 435h1v1h-1zM526 436h1v1h-1zM527 436h1v1h-1zM528 436h1v1h-1zM529 437h1v1h-1zM530 437h1v1h-1zM531 438h1v1h-1zM532 438h1v1h-1zM533 439h1v1h-1zM534 439h1v1h-1zM535 439h1v1h-1zM536 440h1v1h-1zM537 440h1v1h-1zM538 440h1v1h-1zM539 441h1v1h-1zM540 441h1v1h-1zM541 442h1v1h-1zM542 442h1v1h-1zM543 442h1v1h-1zM544 442h1v1h-1zM545 442h1v1h-1zM546 443h1v1h-1zM547 443h1v1h-1zM548 443h1v1h-1zM549 443h1v1h-1zM550 443h1v1h-1zM551 443h1v1h-1zM552 443h1v1h-1zM553 443h1v1h-1zM554 442h1v1h-1zM555 442h1v1h-1zM556 442h1v1h-1zM557 442h1v1h-1zM558 442h1v1h-1zM559 441h1v1h-1zM560 441h1v1h-1zM561 441h1v1h-1zM562 441h1v1h-1zM563 441h1v1h-1zM564 440h1v1h-1zM565 440h1v1h-1zM566 440h1v1h-1zM567 440h1v1h-1zM568 440h1v1h-1zM569 440h1v1h-1zM570 440h1v1h-1zM571 440h1v1h-1zM572 440h1v1h-1zM573 440h1v1h-1zM574 440h1v1h-1zM575 440h1v1h-1zM576 440h1v1h-1zM577 440h1v1h-1zM578 440h1v1h-1zM579 440h1v1h-1zM580 440h1v1h-1zM581 440h1v1h-1zM582 440h1v1h-1zM583 440h1v1h-1zM584 440h1v1h-1zM585 440h1v1h-1zM586 441h1v1h-1zM587 441h1v1h-1zM588 441h1v1h-1zM589 441h1v1h-1zM590 442h1v1h-1zM591 442h1v1h-1zM592 443h1v1h-1zM593 443h1v1h-1zM594 443h1v1h-1zM595 444h1v1h-1zM596 444h1v1h-1zM597 445h1v1h-1zM598 446h1v1h-1zM599 446h1v2h-1zM600 448h1v1h-1zM601 449h1v1h-1zM602 449h1v1h-1zM603 450h1v1h-1zM604 451h1v1h-1zM605 451h1v1h-1zM606 452h1v1h-1zM607 452h1v1h-1zM608 453h1v1h-1zM609 453h1v1h-1zM610 454h1v1h-1zM611 454h1v1h-1zM612 455h1v1h-1zM613 455h1v1h-1zM614 456h1v1h-1zM615 456h1v1h-1zM616 457h1v1h-1zM617 458h1v1h-1zM618 458h1v1h-1zM619 459h1v1h-1zM620 459h1v1h-1zM621 460h1v1h-1zM622 460h1v1h-1zM623 461h1v1h-1zM624 461h1v1h-1zM625 462h1v1h-1zM626 462h1v1h-1zM627 463h1v1h-1zM628 463h1v1h-1zM629 464h1v1h-1zM630 464h1v1h-1zM631 465h1v1h-1zM632 465h1v1h-1zM633 466h1v1h-1zM634 466h1v1h-1zM635 466h1v1h-1zM636 467h1v1h-1zM637 467h1v1h-1zM638 467h1v1h-1zM639 468h1v1h-1zM640 468h1v1h-1zM641 468h1v1h-1zM642 469h1v1h-1zM643 469h1v1h-1zM644 470h1v1h-1zM645 470h1v1h-1zM646 471h1v1h-1zM647 471h1v1h-1zM648 472h1v1h-1zM649 472h1v1h-1zM650 473h1v1h-1zM651 473h1v1h-1zM652 474h1v1h-1zM653 474h1v1h-1zM654 475h1v1h-1zM655 475h1v1h-1zM656 476h1v1h-1zM657 476h1v1h-1zM658 477h1v1h-1zM659 477h1v1h-1zM660 478h1v1h-1zM661 478h1v1h-1zM662 479h1v1h-1zM663 479h1v1h-1zM664 480h1v1h-1zM665 481h1v1h-1zM666 481h1v1h-1zM667 482h1v1h-1zM668 482h1v1h-1zM669 482h1v1h-1zM670 482h1v1h-1zM671 482h1v1h-1zM672 482h1v1h-1zM673 482h1v1h-1zM674 482h1v1h-1zM675 482h1v1h-1zM676 482h1v1h-1zM677 482h1v1h-1zM678 482h1v1h-1zM679 482h1v1h-1zM680 482h1v1h-1zM681 482h1v1h-1zM682 481h1v1h-1zM683 481h1v1h-1zM684 481h1v1h-1zM685 481h1v1h-1zM686 480h1v1h-1zM687 480h1v1h-1zM688 479h1v1h-1zM689 479h1v1h-1zM690 479h1v1h-1zM691 478h1v1h-1zM692 477h1v1h-1zM693 477h1v1h-1zM694 476h1v1h-1zM695 475h1v1h-1zM696 474h1v1h-1zM697 474h1v1h-1zM698 473h1v1h-1zM699 472h1v1h-1zM700 471h1v1h-1zM701 470h1v1h-1zM702 469h1v1h-1zM703 468h1v1h-1zM704 467h1v1h-1zM705 467h1v1h-1zM706 466h1v1h-1zM707 465h1v1h-1zM708 465h1v1h-1zM709 464h1v1h-1zM710 464h1v1h-1zM711 463h1v1h-1zM712 463h1v1h-1zM713 462h1v1h-1zM714 462h1v1h-1zM715 461h1v1h-1zM716 460h1v1h-1zM717 460h1v1h-1zM718 459h1v1h-1zM719 459h1v1h-1zM720 458h1v1h-1zM721 458h1v1h-1zM722 457h1v1h-1zM723 457h1v1h-1zM724 457h1v1h-1zM725 456h1v1h-1zM726 456h1v1h-1zM727 456h1v1h-1zM728 456h1v1h-1zM729 456h1v1h-1zM730 455h1v1h-1zM731 455h1v1h-1zM732 455h1v1h-1zM733 455h1v1h-1zM734 455h1v1h-1zM735 455h1v1h-1zM736 455h1v1h-1zM737 455h1v1h-1zM738 455h1v1h-1zM739 455h1v1h-1zM740 455h1v1h-1zM741 455h1v1h-1zM742 455h1v1h-1zM743 455h1v1h-1zM744 455h1v1h-1zM745 455h1v1h-1zM746 455h1v1h-1zM747 454h1v1h-1zM748 454h1v1h-1zM749 454h1v1h-1zM750 454h1v1h-1zM751 454h1v1h-1zM752 454h1v1h-1zM753 454h1v1h-1zM754 454h1v1h-1zM755 454h1v1h-1zM756 454h1v1h-1zM757 454h1v1h-1zM758 455h1v1h-1zM759 455h1v1h-1zM760 455h1v1h-1zM761 455h1v1h-1zM762 455h1v1h-1zM763 455h1v1h-1zM764 455h1v1h-1zM765 455h1v1h-1zM766 455h1v1h-1zM767 455h1v1h-1zM768 455h1v1h-1zM769 455h1v1h-1zM770 455h1v1h-1zM771 455h1v1h-1zM772 454h1v1h-1zM773 454h1v1h-1zM774 454h1v1h-1zM775 454h1v1h-1zM776 454h1v1h-1zM777 454h1v1h-1zM778 454h1v1h-1zM779 454h1v1h-1zM780 454h1v1h-1zM781 454h1v1h-1zM782 454h1v1h-1zM783 454h1v1h-1zM784 454h1v1h-1zM785 454h1v1h-1zM786 454h1v1h-1zM787 454h1v1h-1zM788 454h1v1h-1zM789 454h1v1h-1zM790 454h1v1h-1zM791 454h1v1h-1zM792 454h1v1h-1zM793 454h1v1h-1zM794 454h1v1h-1zM795 454h1v1h-1zM796 454h1v1h-1zM797 454h1v1h-1zM798 454h1v1h-1zM799 454h1v1h-1zM800 454h1v1h-1zM801 454h1v1h-1zM802 454h1v1h-1zM803 454h1v1h-1zM804 454h1v1h-1zM805 454h1v1h-1zM806 455h1v1h-1zM807 455h1v1h-1zM808 455h1v1h-1zM809 456h1v1h-1zM810 456h1v1h-1zM811 456h1v1h-1zM812 456h1v1h-1zM813 456h1v1h-1zM814 456h1v1h-1zM815 456h1v1h-1zM816 456h1v1h-1zM817 457h1v1h-1zM818 457h1v1h-1zM819 458h1v1h-1zM820 458h1v1h-1zM821 458h1v1h-1zM822 459h1v1h-1zM823 459h1v1h-1zM824 459h1v1h-1zM825 459h1v1h-1zM826 459h1v1h-1zM827 459h1v1h-1zM828 459h1v1h-1zM829 459h1v1h-1zM830 458h1v1h-1zM831 458h1v1h-1zM832 458h1v1h-1zM833 457h1v1h-1zM834 457h1v1h-1zM835 457h1v1h-1zM836 457h1v1h-1zM837 457h1v1h-1zM838 457h1v1h-1zM839 457h1v1h-1zM840 457h1v1h-1zM841 457h1v1h-1zM842 457h1v1h-1zM843 457h1v1h-1zM844 456h1v1h-1zM845 456h1v1h-1zM846 456h1v1h-1zM847 455h1v1h-1zM848 455h1v1h-1zM849 455h1v1h-1zM850 455h1v1h-1zM851 455h1v1h-1zM852 455h1v1h-1zM853 455h1v1h-1zM854 455h1v1h-1zM855 455h1v1h-1zM856 455h1v1h-1zM857 455h1v1h-1zM858 455h1v1h-1zM859 455h1v1h-1zM860 455h1v1h-1zM861 455h1v1h-1zM862 456h1v1h-1zM863 457h1v1h-1zM864 457h1v1h-1zM865 457h1v1h-1zM866 458h1v1h-1zM867 458h1v1h-1zM868 459h1v1h-1zM869 459h1v1h-1zM870 460h1v1h-1zM871 460h1v1h-1zM872 461h1v1h-1zM873 461h1v1h-1zM874 462h1v1h-1zM875 462h1v1h-1zM876 463h1v1h-1zM877 463h1v1h-1zM878 464h1v1h-1zM879 464h1v1h-1zM880 465h1v1h-1zM881 465h1v1h-1zM882 466h1v1h-1zM883 467h1v1h-1zM884 467h1v1h-1zM885 468h1v1h-1zM886 469h1v1h-1zM887 470h1v1h-1zM888 471h1v1h-1zM889 472h1v1h-1zM890 472h1v1h-1zM891 473h1v1h-1zM892 473h1v1h-1zM893 474h1v1h-1zM894 474h1v1h-1zM895 475h1v1h-1zM896 475h1v1h-1zM897 476h1v1h-1zM898 476h1v1h-1zM899 477h1v1h-1zM900 478h1v1h-1zM901 478h1v1h-1zM902 479h1v1h-1zM903 479h1v1h-1zM904 479h1v1h-1zM905 479h1v1h-1zM906 479h1v1h-1zM907 480h1v1h-1zM908 480h1v1h-1zM909 480h1v1h-1zM910 481h1v1h-1zM911 481h1v1h-1zM912 481h1v1h-1zM913 481h1v1h-1zM914 481h1v1h-1zM915 482h1v1h-1zM916 482h1v1h-1zM917 482h1v1h-1zM918 482h1v1h-1zM919 482h1v1h-1zM920 482h1v1h-1zM921 482h1v1h-1z" fill="#ff0000" shape-rendering="crispEdges"/>
<path d="M2 525h1v1h-1zM3 525h1v1h-1zM4 524h1v1h-1zM5 524h1v1h-1zM6 523h1v1h-1zM7 523h1v1h-1zM8 522h1v1h-1zM9 522h1v1h-1zM10 522h1v1h-1zM11 522h1v1h-1zM12 522h1v1h-1zM13 522h1v1h-1zM14 522h1v1h-1zM15 521h1v1h-1zM16 521h1v1h-1zM17 520h1v1h-1zM18 519h1v1h-1zM19 519h1v1h-1zM20 519h1v1h-1zM21 519h1v1h-1zM22 519h1v1h-1zM23 519h1v1h-1zM24 519h1v1h-1zM25 518h1v1h-1zM26 517h1v1h-1zM27 516h1v1h-1zM28 515h1v1h-1zM29 514h1v1h-1zM30 513h1v1h-1zM31 514h1v2h-1zM32 516h1v2h-1zM33 518h1v2h-1zM34 520h1v2h-1zM35 522h1v2h-1zM36 524h1v2h-1zM37 526h1v1h-1zM38 527h1v1h-1zM39 527h1v1h-1zM40 527h1v1h-1zM41 527h1v1h-1zM42 527h1v1h-1zM43 527h1v1h-1zM44 527h1v1h-1zM45 527h1v1h-1zM46 527h1v1h-1zM47 527h1v1h-1zM48 527h1v1h-1zM49 527h1v1h-1zM50 527h1v1h-1zM51 527h1v1h-1zM52 527h1v1h-1zM53 528h1v1h-1zM54 528h1v1h-1zM55 528h1v1h-1zM56 527h1v1h-1zM57 527h1v1h-1zM58 526h1v1h-1zM59 526h1v2h-1zM60 528h1v1h-1zM61 529h1v2h-1zM62 531h1v1h-1zM63 531h1v1h-1zM64 532h1v1h-1zM65 533h1v1h-1zM66 534h1v1h-1zM67 534h1v1h-1zM68 534h1v1h-1zM69 534h1v1h-1zM70 534h1v1h-1zM71 534h1v1h-1zM72 534h1v1h-1zM73 534h1v1h-1zM74 533h1v1h-1zM75 533h1v1h-1zM76 532h1v1h-1zM77 532h1v1h-1zM78 531h1v1h-1zM79 531h1v1h-1zM80 531h1v1h-1zM81 530h1v1h-1zM82 530h1v1h-1zM83 529h1v1h-1zM84 529h1v1h-1zM85 529h1v1h-1zM86 529h1v1h-1zM87 530h1v1h-1zM88 531h1v1h-1zM89 531h1v1h-1zM90 531h1v1h-1zM91 531h1v1h-1zM92 530h1v1h-1zM93 529h1v1h-1zM94 529h1v1h-1zM95 528h1v1h-1zM96 528h1v1h-1zM97 528h1v1h-1zM98 528h1v1h-1zM99 528h1v1h-1zM100 528h1v1h-1zM101 528h1v1h-1zM102 528h1v1h-1zM103 528h1v1h-1zM104 529h1v1h-1zM105 530h1v1h-1zM106 531h1v1h-1zM107 532h1v1h-1zM108 532h1v1h-1zM109 532h1v1h-1zM110 532h1v1h-1zM111 532h1v1h-1zM112 532h1v1h-1zM113 532h1v1h-1zM114 532h1v1h-1zM115 532h1v1h-1zM116 532h1v1h-1zM117 532h1v1h-1zM118 532h1v1h-1zM119 532h1v1h-1zM120 532h1v1h-1zM121 532h1v1h-1zM122 532h1v1h-1zM123 531h1v1h-1zM124 530h1v1h-1zM125 529h1v1h-1zM126 528h1v1h-1zM127 527h1v1h-1zM128 526h1v1h-1zM129 525h1v1h-1zM130 524h1v1h-1zM131 523h1v1h-1zM132 523h1v1h-1zM133 522h1v1h-1zM134 521h1v1h-1zM135 520h1v1h-1zM136 518h1v2h-1zM137 517h1v1h-1zM138 515h1v2h-1zM139 514h1v1h-1zM140 514h1v1h-1zM141 514h1v1h-1zM142 514h1v1h-1zM143 514h1v1h-1zM144 514h1v1h-1zM145 515h1v1h-1zM146 516h1v1h-1zM147 517h1v3h-1zM148 520h1v4h-1zM149 524h1v3h-1zM150 527h1v2h-1zM151 529h1v1h-1zM152 530h1v2h-1zM153 532h1v1h-1zM154 533h1v1h-1zM155 533h1v1h-1zM156 533h1v1h-1zM157 533h1v1h-1zM158 533h1v1h-1zM159 532h1v1h-1zM160 530h1v2h-1zM161 528h1v2h-1zM162 528h1v1h-1zM163 529h1v1h-1zM164 530h1v1h-1zM165 531h1v1h-1zM166 532h1v1h-1zM167 532h1v1h-1zM168 532h1v1h-1zM169 532h1v1h-1zM170 532h1v1h-1zM171 532h1v1h-1zM172 532h1v1h-1zM173 532h1v1h-1zM174 532h1v1h-1zM175 532h1v1h-1zM176 532h1v1h-1zM177 532h1v1h-1zM178 532h1v1h-1zM179 532h1v1h-1zM180 532h1v1h-1zM181 532h1v1h-1zM182 532h1v1h-1zM183 532h1v1h-1zM184 533h1v1h-1zM185 534h1v1h-1zM186 535h1v1h-1zM187 536h1v1h-1zM188 536h1v1h-1zM189 537h1v1h-1zM190 537h1v1h-1zM191 537h1v1h-1zM192 537h1v1h-1zM193 537h1v1h-1zM194 537h1v1h-1zM195 537h1v1h-1zM196 537h1v1h-1zM197 537h1v1h-1zM198 535h1v2h-1zM199 533h1v2h-1zM200 531h1v2h-1zM201 529h1v2h-1zM202 528h1v1h-1zM203 527h1v1h-1zM204 526h1v1h-1zM205 526h1v1h-1zM206 526h1v1h-1zM207 526h1v1h-1zM208 527h1v1h-1zM209 527h1v1h-1zM210 528h1v1h-1zM211 528h1v1h-1zM212 529h1v1h-1zM213 528h1v1h-1zM214 528h1v1h-1zM215 528h1v1h-1zM216 528h1v1h-1zM217 528h1v1h-1zM218 528h1v1h-1zM219 529h1v1h-1zM220 529h1v1h-1zM221 529h1v1h-1zM222 529h1v1h-1zM223 528h1v1h-1zM224 527h1v1h-1zM225 527h1v1h-1zM226 527h1v2h-1zM227 529h1v1h-1zM228 530h1v2h-1zM229 532h1v1h-1zM230 532h1v1h-1zM231 531h1v1h-1zM232 530h1v1h-1zM233 529h1v1h-1zM234 529h1v1h-1zM235 528h1v1h-1zM236 527h1v1h-1zM237 526h1v1h-1zM238 525h1v1h-1zM239 524h1v1h-1zM240 524h1v1h-1zM241 524h1v1h-1zM242 524h1v1h-1zM243 523h1v1h-1zM244 523h1v1h-1zM245 523h1v1h-1zM246 523h1v1h-1zM247 523h1v1h-1zM248 522h1v1h-1zM249 522h1v1h-1zM250 522h1v1h-1zM251 523h1v1h-1zM252 524h1v1h-1zM253 524h1v2h-1zM254 526h1v2h-1zM255 528h1v2h-1zM256 530h1v2h-1zM257 532h1v2h-1zM258 533h1v1h-1zM259 533h1v1h-1zM260 533h1v1h-1zM261 533h1v1h-1zM262 533h1v1h-1zM263 533h1v1h-1zM264 533h1v1h-1zM265 534h1v1h-1zM266 534h1v1h-1zM267 535h1v1h-1zM268 535h1v1h-1zM269 535h1v1h-1zM270 535h1v1h-1zM271 534h1v1h-1zM272 533h1v1h-1zM273 532h1v1h-1zM274 530h1v2h-1zM275 529h1v1h-1zM276 528h1v1h-1zM277 527h1v1h-1zM278 528h1v1h-1zM279 529h1v1h-1zM280 530h1v1h-1zM281 531h1v1h-1zM282 532h1v1h-1zM283 533h1v1h-1zM284 533h1v1h-1zM285 534h1v1h-1zM286 535h1v1h-1zM287 535h1v1h-1zM288 535h1v1h-1zM289 535h1v1h-1zM290 535h1v1h-1zM291 535h1v1h-1zM292 536h1v1h-1zM293 536h1v1h-1zM294 536h1v1h-1zM295 537h1v1h-1zM296 537h1v1h-1zM297 538h1v1h-1zM298 537h1v1h-1zM299 537h1v1h-1zM300 537h1v1h-1zM301 537h1v1h-1zM302 538h1v1h-1zM303 538h1v1h-1zM304 538h1v1h-1zM305 539h1v1h-1zM306 540h1v1h-1zM307 541h1v1h-1zM308 541h1v1h-1zM309 542h1v1h-1zM310 543h1v1h-1zM311 543h1v1h-1zM312 542h1v1h-1zM313 542h1v1h-1zM314 542h1v1h-1zM315 542h1v1h-1zM316 542h1v1h-1zM317 542h1v1h-1zM318 542h1v1h-1zM319 542h1v1h-1zM320 542h1v1h-1zM321 542h1v1h-1zM322 542h1v1h-1zM323 543h1v1h-1zM324 543h1v1h-1zM325 543h1v1h-1zM326 544h1v1h-1zM327 545h1v1h-1zM328 546h1v1h-1zM329 546h1v1h-1zM330 547h1v1h-1zM331 547h1v1h-1zM332 547h1v1h-1zM333 547h1v1h-1zM334 547h1v1h-1zM335 547h1v1h-1zM336 547h1v1h-1zM337 547h1v1h-1zM338 547h1v1h-1zM339 547h1v1h-1zM340 547h1v1h-1zM341 547h1v1h-1zM342 547h1v1h-1zM343 547h1v1h-1zM344 547h1v1h-1zM345 548h1v1h-1zM346 548h1v1h-1zM347 549h1v1h-1zM348 549h1v1h-1zM349 549h1v1h-1zM350 549h1v1h-1zM351 547h1v2h-1zM352 545h1v2h-1zM353 544h1v1h-1zM354 544h1v1h-1zM355 544h1v1h-1zM356 544h1v1h-1zM357 544h1v1h-1zM358 544h1v1h-1zM359 544h1v1h-1zM360 544h1v1h-1zM361 544h1v1h-1zM362 544h1v1h-1zM363 544h1v1h-1zM364 543h1v1h-1zM365 543h1v1h-1zM366 542h1v1h-1zM367 542h1v1h-1zM368 541h1v1h-1zM369 541h1v1h-1zM370 541h1v1h-1zM371 541h1v1h-1zM372 542h1v1h-1zM373 542h1v1h-1zM374 542h1v1h-1zM375 543h1v1h-1zM376 543h1v1h-1zM377 543h1v1h-1zM378 543h1v1h-1zM379 542h1v1h-1zM380 542h1v1h-1zM381 541h1v1h-1zM382 540h1v1h-1zM383 540h1v1h-1zM384 539h1v1h-1zM385 539h1v1h-1zM386 539h1v1h-1zM387 539h1v1h-1zM388 539h1v1h-1zM389 540h1v1h-1zM390 540h1v1h-1zM391 539h1v1h-1zM392 538h1v1h-1zM393 537h1v1h-1zM394 536h1v1h-1zM395 536h1v1h-1zM396 537h1v1h-1zM397 538h1v1h-1zM398 538h1v2h-1zM399 536h1v2h-1zM400 534h1v2h-1zM401 532h1v2h-1zM402 530h1v2h-1zM403 530h1v1h-1zM404 530h1v1h-1zM405 529h1v1h-1zM406 529h1v1h-1zM407 530h1v1h-1zM408 530h1v1h-1zM409 530h1v1h-1zM410 531h1v1h-1zM411 531h1v1h-1zM412 532h1v1h-1zM413 532h1v1h-1zM414 532h1v1h-1zM415 532h1v1h-1zM416 532h1v1h-1zM417 532h1v1h-1zM418 530h1v2h-1zM419 529h1v1h-1zM420 527h1v2h-1zM421 526h1v1h-1zM422 525h1v1h-1zM423 523h1v2h-1zM424 522h1v1h-1zM425 520h1v2h-1zM426 520h1v1h-1zM427 521h1v1h-1zM428 522h1v1h-1zM429 523h1v1h-1zM430 524h1v1h-1zM431 524h1v1h-1zM432 525h1v1h-1zM433 525h1v1h-1zM434 525h1v1h-1zM435 526h1v1h-1zM436 527h1v1h-1zM437 527h1v1h-1zM438 527h1v1h-1zM439 526h1v1h-1zM440 525h1v1h-1zM441 525h1v1h-1zM442 524h1v1h-1zM443 523h1v1h-1zM444 522h1v1h-1zM445 522h1v1h-1zM446 522h1v1h-1zM447 522h1v1h-1zM448 522h1v1h-1zM449 521h1v1h-1zM450 521h1v1h-1zM451 520h1v1h-1zM452 520h1v1h-1zM453 519h1v1h-1zM454 519h1v1h-1zM455 519h1v1h-1zM456 519h1v1h-1zM457 520h1v1h-1zM458 520h1v1h-1zM459 519h1v1h-1zM460 518h1v1h-1zM461 517h1v1h-1zM462 517h1v1h-1zM463 518h1v1h-1zM464 518h1v1h-1zM465 519h1v1h-1zM466 519h1v1h-1zM467 520h1v1h-1zM468 520h1v1h-1zM469 521h1v1h-1zM470 521h1v1h-1zM471 522h1v1h-1zM472 522h1v1h-1zM473 522h1v1h-1zM474 522h1v1h-1zM475 521h1v1h-1zM476 519h1v2h-1zM477 517h1v2h-1zM478 515h1v2h-1zM479 517h1v2h-1zM480 519h1v2h-1zM481 521h1v1h-1zM482 521h1v1h-1zM483 521h1v1h-1zM484 521h1v1h-1zM485 520h1v1h-1zM486 520h1v1h-1zM487 520h1v1h-1zM488 519h1v1h-1zM489 519h1v1h-1zM490 518h1v1h-1zM491 518h1v1h-1zM492 517h1v1h-1zM493 517h1v1h-1zM494 517h1v1h-1zM495 517h1v1h-1zM496 517h1v1h-1zM497 517h1v1h-1zM498 517h1v1h-1zM499 516h1v1h-1zM500 516h1v1h-1zM501 516h1v1h-1zM502 516h1v1h-1zM503 517h1v1h-1zM504 517h1v1h-1zM505 518h1v1h-1zM506 519h1v2h-1zM507 521h1v1h-1zM508 522h1v2h-1zM509 524h1v1h-1zM510 525h1v2h-1zM511 527h1v2h-1zM512 529h1v2h-1zM513 531h1v2h-1zM514 533h1v1h-1zM515 534h1v1h-1zM516 534h1v1h-1zM517 534h1v1h-1zM518 534h1v1h-1zM519 533h1v1h-1zM520 532h1v1h-1zM521 531h1v1h-1zM522 530h1v1h-1zM523 529h1v1h-1zM524 528h1v1h-1zM525 528h1v1h-1zM526 528h1v1h-1zM527 528h1v1h-1zM528 528h1v1h-1zM529 528h1v1h-1zM530 528h1v1h-1zM531 527h1v1h-1zM532 526h1v1h-1zM533 524h1v2h-1zM534 523h1v1h-1zM535 522h1v1h-1zM536 521h1v1h-1zM537 521h1v1h-1zM538 521h1v1h-1zM539 521h1v1h-1zM540 521h1v1h-1zM541 522h1v1h-1zM542 523h1v1h-1zM543 524h1v2h-1zM544 526h1v1h-1zM545 527h1v1h-1zM546 527h1v1h-1zM547 526h1v1h-1zM548 524h1v2h-1zM549 523h1v1h-1zM550 522h1v1h-1zM551 522h1v1h-1zM552 522h1v1h-1zM553 521h1v1h-1zM554 521h1v1h-1zM555 521h1v1h-1zM556 520h1v1h-1zM557 520h1v1h-1zM558 520h1v1h-1zM559 520h1v1h-1zM560 521h1v1h-1zM561 521h1v1h-1zM562 522h1v1h-1zM563 523h1v1h-1zM564 524h1v1h-1zM565 525h1v1h-1zM566 526h1v1h-1zM567 526h1v1h-1zM568 527h1v1h-1zM569 528h1v1h-1zM570 528h1v1h-1zM571 529h1v1h-1zM572 529h1v1h-1zM573 529h1v1h-1zM574 529h1v1h-1zM575 530h1v1h-1zM576 530h1v1h-1zM577 530h1v1h-1zM578 530h1v1h-1zM579 530h1v1h-1zM580 531h1v1h-1zM581 531h1v1h-1zM582 531h1v1h-1zM583 531h1v1h-1zM584 530h1v1h-1zM585 530h1v1h-1zM586 530h1v1h-1zM587 531h1v1h-1zM588 531h1v1h-1zM589 532h1v1h-1zM590 533h1v1h-1zM591 533h1v1h-1zM592 534h1v2h-1zM593 536h1v1h-1zM594 537h1v1h-1zM595 538h1v2h-1zM596 540h1v1h-1zM597 540h1v1h-1zM598 540h1v1h-1zM599 540h1v1h-1zM600 540h1v1h-1zM601 540h1v1h-1zM602 539h1v1h-1zM603 537h1v2h-1zM604 536h1v1h-1zM605 534h1v2h-1zM606 534h1v1h-1zM607 534h1v1h-1zM608 535h1v1h-1zM609 536h1v1h-1zM610 535h1v1h-1zM611 534h1v1h-1zM612 533h1v1h-1zM613 532h1v1h-1zM614 532h1v1h-1zM615 532h1v1h-1zM616 533h1v1h-1zM617 533h1v1h-1zM618 534h1v1h-1zM619 535h1v1h-1zM620 536h1v1h-1zM621 537h1v1h-1zM622 538h1v1h-1zM623 538h1v1h-1zM624 538h1v1h-1zM625 538h1v1h-1zM626 537h1v1h-1zM627 537h1v1h-1zM628 537h1v1h-1zM629 537h1v1h-1zM630 537h1v1h-1zM631 538h1v1h-1zM632 539h1v1h-1zM633 540h1v1h-1zM634 541h1v1h-1zM635 541h1v1h-1zM636 542h1v1h-1zM637 542h1v1h-1zM638 543h1v1h-1zM639 544h1v1h-1zM640 544h1v1h-1zM641 544h1v1h-1zM642 543h1v1h-1zM643 542h1v1h-1zM644 542h1v1h-1zM645 541h1v1h-1zM646 540h1v1h-1zM647 540h1v1h-1zM648 540h1v1h-1zM649 541h1v1h-1zM650 541h1v1h-1zM651 541h1v1h-1zM652 542h1v1h-1zM653 542h1v1h-1zM654 542h1v1h-1zM655 542h1v1h-1zM656 542h1v1h-1zM657 542h1v1h-1zM658 542h1v1h-1zM659 542h1v1h-1zM660 542h1v1h-1zM661 542h1v1h-1zM662 542h1v1h-1zM663 542h1v1h-1zM664 542h1v1h-1zM665 542h1v1h-1zM666 542h1v1h-1zM667 540h1v2h-1zM668 539h1v1h-1zM669 538h1v1h-1zM670 536h1v2h-1zM671 536h1v1h-1zM672 536h1v1h-1zM673 536h1v1h-1zM674 537h1v1h-1zM675 535h1v2h-1zM676 534h1v1h-1zM677 533h1v1h-1zM678 532h1v1h-1zM679 533h1v1h-1zM680 533h1v1h-1zM681 533h1v1h-1zM682 533h1v1h-1zM683 532h1v1h-1zM684 531h1v1h-1zM685 530h1v1h-1zM686 529h1v1h-1zM687 528h1v1h-1zM688 527h1v1h-1zM689 526h1v1h-1zM690 525h1v1h-1zM691 524h1v1h-1zM692 524h1v1h-1zM693 523h1v1h-1zM694 523h1v1h-1zM695 523h1v1h-1zM696 523h1v1h-1zM697 524h1v1h-1zM698 524h1v1h-1zM699 525h1v1h-1zM700 526h1v1h-1zM701 526h1v1h-1zM702 527h1v1h-1zM703 528h1v1h-1zM704 528h1v1h-1zM705 529h1v1h-1zM706 529h1v1h-1zM707 530h1v1h-1zM708 530h1v1h-1zM709 531h1v1h-1zM710 531h1v1h-1zM711 531h1v1h-1zM712 531h1v1h-1zM713 531h1v1h-1zM714 530h1v1h-1zM715 529h1v1h-1zM716 527h1v2h-1zM717 526h1v1h-1zM718 526h1v1h-1zM719 526h1v1h-1zM720 526h1v1h-1zM721 526h1v1h-1zM722 527h1v1h-1zM723 528h1v1h-1zM724 529h1v2h-1zM725 531h1v2h-1zM726 533h1v1h-1zM727 532h1v1h-1zM728 531h1v1h-1zM729 531h1v1h-1zM730 530h1v1h-1zM731 530h1v1h-1zM732 531h1v1h-1zM733 531h1v1h-1zM734 531h1v1h-1zM735 530h1v1h-1zM736 529h1v1h-1zM737 529h1v1h-1zM738 528h1v1h-1zM739 528h1v1h-1zM740 528h1v1h-1zM741 528h1v1h-1zM742 528h1v1h-1zM743 528h1v1h-1zM744 529h1v1h-1zM745 529h1v1h-1zM746 530h1v1h-1zM747 529h1v1h-1zM748 529h1v1h-1zM749 529h1v1h-1zM750 529h1v1h-1zM751 529h1v1h-1zM752 529h1v1h-1zM753 530h1v1h-1zM754 530h1v1h-1zM755 530h1v1h-1zM756 531h1v1h-1zM757 531h1v1h-1zM758 532h1v1h-1zM759 532h1v1h-1zM760 531h1v1h-1zM761 531h1v1h-1zM762 530h1v1h-1zM763 530h1v1h-1zM764 529h1v1h-1zM765 528h1v1h-1zM766 528h1v1h-1zM767 527h1v1h-1zM768 527h1v1h-1zM769 527h1v1h-1zM770 527h1v1h-1zM771 527h1v1h-1zM772 527h1v1h-1zM773 527h1v1h-1zM774 527h1v1h-1zM775 526h1v1h-1zM776 526h1v1h-1zM777 526h1v1h-1zM778 527h1v1h-1zM779 528h1v1h-1zM780 529h1v1h-1zM781 530h1v1h-1zM782 529h1v1h-1zM783 527h1v2h-1zM784 526h1v1h-1zM785 525h1v1h-1zM786 524h1v2h-1zM787 526h1v2h-1zM788 528h1v3h-1zM789 531h1v1h-1zM790 532h1v1h-1zM791 531h1v1h-1zM792 531h1v1h-1zM793 530h1v1h-1zM794 530h1v2h-1zM795 532h1v1h-1zM796 533h1v2h-1zM797 535h1v1h-1zM798 535h1v1h-1zM799 534h1v1h-1zM800 533h1v1h-1zM801 532h1v1h-1zM802 533h1v1h-1zM803 534h1v1h-1zM804 535h1v1h-1zM805 536h1v1h-1zM806 536h1v1h-1zM807 536h1v1h-1zM808 535h1v1h-1zM809 535h1v1h-1zM810 534h1v1h-1zM811 533h1v1h-1zM812 532h1v1h-1zM813 531h1v1h-1zM814 531h1v1h-1zM815 531h1v1h-1zM816 531h1v1h-1zM817 532h1v1h-1zM818 531h1v1h-1zM819 530h1v1h-1zM820 529h1v1h-1zM821 528h1v1h-1zM822 527h1v1h-1zM823 525h1v2h-1zM824 524h1v1h-1zM825 523h1v1h-1zM826 523h1v2h-1zM827 525h1v1h-1zM828 526h1v2h-1zM829 528h1v1h-1zM830 528h1v1h-1zM831 529h1v1h-1zM832 529h1v1h-1zM833 530h1v1h-1zM834 531h1v1h-1zM835 531h1v1h-1zM836 531h1v1h-1zM837 532h1v1h-1zM838 532h1v1h-1zM839 533h1v1h-1zM840 533h1v1h-1zM841 533h1v1h-1zM842 533h1v1h-1zM843 531h1v2h-1zM844 530h1v1h-1zM845 529h1v1h-1zM846 528h1v1h-1zM847 528h1v1h-1zM848 529h1v1h-1zM849 530h1v1h-1zM850 531h1v1h-1zM851 532h1v1h-1zM852 533h1v1h-1zM853 534h1v1h-1zM854 535h1v1h-1zM855 535h1v1h-1zM856 536h1v1h-1zM857 536h1v1h-1zM858 537h1v1h-1zM859 538h1v1h-1zM860 538h1v1h-1zM861 539h1v1h-1zM862 539h1v1h-1zM863 539h1v1h-1zM864 539h1v1h-1zM865 539h1v1h-1zM866 539h1v1h-1zM867 539h1v1h-1zM868 539h1v1h-1zM869 539h1v1h-1zM870 539h1v1h-1zM871 540h1v1h-1zM872 540h1v1h-1zM873 540h1v1h-1zM874 540h1v1h-1zM875 540h1v1h-1zM876 540h1v1h-1zM877 541h1v1h-1zM878 541h1v1h-1zM879 542h1v1h-1zM880 542h1v1h-1zM881 542h1v1h-1zM882 543h1v1h-1zM883 543h1v1h-1zM884 544h1v1h-1zM885 544h1v1h-1zM886 545h1v1h-1zM887 544h1v1h-1zM888 544h1v1h-1zM889 543h1v1h-1zM890 543h1v1h-1zM891 542h1v1h-1zM892 542h1v1h-1zM893 541h1v1h-1zM894 541h1v1h-1zM895 541h1v1h-1zM896 542h1v1h-1zM897 542h1v1h-1zM898 542h1v1h-1zM899 542h1v1h-1zM900 543h1v1h-1zM901 543h1v1h-1zM902 543h1v1h-1zM903 542h1v1h-1zM904 542h1v1h-1zM905 541h1v1h-1zM906 541h1v1h-1zM907 540h1v1h-1zM908 540h1v1h-1zM909 540h1v1h-1zM910 539h1v1h-1zM911 539h1v1h-1zM912 539h1v1h-1zM913 539h1v1h-1zM914 539h1v1h-1zM915 539h1v1h-1zM916 540h1v1h-1zM917 540h1v1h-1zM918 541h1v1h-1zM919 541h1v1h-1zM920 541h1v1h-1zM921 541h1v1h-1z" fill="#1e90ff" shape-rendering="crispEdges"/>
<rect x="1" y="27" width="1" height="543" fill="#000" shape-rendering="crispEdges"/>
<g shape-rendering="crispEdges" fill="#000">
<rect x="1165" y="53" width="2" height="1"/>
<rect x="1165" y="119" width="2" height="1"/>
<rect x="1165" y="152" width="2" height="1"/>
<rect x="1165" y="185" width="2" height="1"/>
<rect x="1165" y="218" width="2" height="1"/>
<rect x="1165" y="251" width="2" height="1"/>
<rect x="1165" y="284" width="2" height="1"/>
<rect x="1165" y="317" width="2" height="1"/>
<rect x="1165" y="350" width="2" height="1"/>
<rect x="1165" y="383" width="2" height="1"/>
<rect x="1165" y="416" width="2" height="1"/>
<rect x="1165" y="461" width="2" height="1"/>
<rect x="1165" y="518" width="2" height="1"/>
<rect x="1165" y="547" width="2" height="1"/>
</g>
<text x="1170.5" y="57.2" font-size="10.0" fill="#000" text-anchor="start" textLength="31.5" lengthAdjust="spacingAndGlyphs">1.29510</text>
<text x="1170.5" y="123.2" font-size="10.0" fill="#000" text-anchor="start" textLength="31.5" lengthAdjust="spacingAndGlyphs">1.28280</text>
<text x="1170.5" y="156.2" font-size="10.0" fill="#000" text-anchor="start" textLength="31.5" lengthAdjust="spacingAndGlyphs">1.27665</text>
<text x="1170.5" y="189.2" font-size="10.0" fill="#000" text-anchor="start" textLength="31.5" lengthAdjust="spacingAndGlyphs">1.27050</text>
<text x="1170.5" y="222.2" font-size="10.0" fill="#000" text-anchor="start" textLength="31.5" lengthAdjust="spacingAndGlyphs">1.26435</text>
<text x="1170.5" y="255.2" font-size="10.0" fill="#000" text-anchor="start" textLength="31.5" lengthAdjust="spacingAndGlyphs">1.25820</text>
<text x="1170.5" y="288.2" font-size="10.0" fill="#000" text-anchor="start" textLength="31.5" lengthAdjust="spacingAndGlyphs">1.25205</text>
<text x="1170.5" y="321.2" font-size="10.0" fill="#000" text-anchor="start" textLength="31.5" lengthAdjust="spacingAndGlyphs">1.24590</text>
<text x="1170.5" y="354.2" font-size="10.0" fill="#000" text-anchor="start" textLength="31.5" lengthAdjust="spacingAndGlyphs">1.23975</text>
<text x="1170.5" y="387.2" font-size="10.0" fill="#000" text-anchor="start" textLength="31.5" lengthAdjust="spacingAndGlyphs">1.23360</text>
<text x="1170.5" y="420.2" font-size="10.0" fill="#000" text-anchor="start" textLength="31.5" lengthAdjust="spacingAndGlyphs">1.22745</text>
<g shape-rendering="crispEdges">
<rect x="1166" y="298" width="39" height="11" fill="#000"/>
<rect x="1166" y="79" width="39" height="11" fill="#ff0000"/>
<rect x="1166" y="154" width="39" height="11" fill="#ff0000"/>
<rect x="1166" y="219" width="39" height="11" fill="#00ff00"/>
<rect x="1166" y="300" width="39" height="11" fill="#0000ff"/>
<rect x="1166" y="386" width="39" height="11" fill="#0000ff"/>
</g>
<text x="1170.5" y="87.7" font-size="10.0" fill="#fff" text-anchor="start" textLength="31.5" lengthAdjust="spacingAndGlyphs">1.28912</text>
<text x="1170.5" y="162.7" font-size="10.0" fill="#fff" text-anchor="start" textLength="31.5" lengthAdjust="spacingAndGlyphs">1.27515</text>
<text x="1170.5" y="227.7" font-size="10.0" fill="#fff" text-anchor="start" textLength="31.5" lengthAdjust="spacingAndGlyphs">1.26303</text>
<text x="1170.5" y="308.7" font-size="10.0" fill="#fff" text-anchor="start" textLength="31.5" lengthAdjust="spacingAndGlyphs">1.24800</text>
<text x="1170.5" y="394.7" font-size="10.0" fill="#fff" text-anchor="start" textLength="31.5" lengthAdjust="spacingAndGlyphs">1.23203</text>
<text x="1168.5" y="431.3" font-size="10.0" fill="#000" text-anchor="start" textLength="37" lengthAdjust="spacingAndGlyphs">0.010869</text>
<text x="1168.5" y="464.4" font-size="10.0" fill="#000" text-anchor="start" textLength="17.5" lengthAdjust="spacingAndGlyphs">0.00</text>
<text x="1167.5" y="489.7" font-size="10.0" fill="#000" text-anchor="start" textLength="40" lengthAdjust="spacingAndGlyphs">-0.008974</text>
<text x="1168.5" y="505.2" font-size="10.0" fill="#000" text-anchor="start" textLength="14.5" lengthAdjust="spacingAndGlyphs">100</text>
<text x="1168.5" y="521.5" font-size="10.0" fill="#000" text-anchor="start" textLength="9.5" lengthAdjust="spacingAndGlyphs">70</text>
<text x="1168.5" y="550.6" font-size="10.0" fill="#000" text-anchor="start" textLength="9.5" lengthAdjust="spacingAndGlyphs">30</text>
<text x="1168.5" y="564.8" font-size="10.0" fill="#000" text-anchor="start" textLength="4.8" lengthAdjust="spacingAndGlyphs">0</text>
<path d="M5 34 L12 34 L8.5 38 Z" fill="#000"/>
<text x="17.3" y="39" font-size="10.0" fill="#000" text-anchor="start" textLength="68.3" lengthAdjust="spacingAndGlyphs">USDCAD-,Daily</text>
<text x="92.3" y="39" font-size="10.0" fill="#000" text-anchor="start" textLength="32.7" lengthAdjust="spacingAndGlyphs">1.24866</text>
<text x="128.8" y="39" font-size="10.0" fill="#000" text-anchor="start" textLength="32.5" lengthAdjust="spacingAndGlyphs">1.24969</text>
<text x="164.6" y="39" font-size="10.0" fill="#000" text-anchor="start" textLength="32.6" lengthAdjust="spacingAndGlyphs">1.24019</text>
<text x="200.5" y="39" font-size="10.0" fill="#000" text-anchor="start" textLength="32.5" lengthAdjust="spacingAndGlyphs">1.24846</text>
<text x="6.3" y="433.5" font-size="10.0" fill="#000" text-anchor="start" textLength="66" lengthAdjust="spacingAndGlyphs">MACD(12,26,9)</text>
<text x="75.9" y="433.5" font-size="10.0" fill="#000" text-anchor="start" textLength="40" lengthAdjust="spacingAndGlyphs">-0.005665</text>
<text x="119.6" y="433.5" font-size="10.0" fill="#000" text-anchor="start" textLength="40" lengthAdjust="spacingAndGlyphs">-0.006012</text>
<text x="6.3" y="507.5" font-size="10.0" fill="#000" text-anchor="start" textLength="31.5" lengthAdjust="spacingAndGlyphs">RSI(14)</text>
<text x="41.3" y="507.5" font-size="10.0" fill="#000" text-anchor="start" textLength="32.5" lengthAdjust="spacingAndGlyphs">37.8002</text>
<g shape-rendering="crispEdges" fill="#000">
<rect x="2" y="570" width="1" height="4"/>
<rect x="66" y="570" width="1" height="4"/>
<rect x="130" y="570" width="1" height="4"/>
<rect x="194" y="570" width="1" height="4"/>
<rect x="258" y="570" width="1" height="4"/>
<rect x="322" y="570" width="1" height="4"/>
<rect x="386" y="570" width="1" height="4"/>
<rect x="450" y="570" width="1" height="4"/>
<rect x="514" y="570" width="1" height="4"/>
<rect x="578" y="570" width="1" height="4"/>
<rect x="642" y="570" width="1" height="4"/>
<rect x="706" y="570" width="1" height="4"/>
<rect x="770" y="570" width="1" height="4"/>
<rect x="834" y="570" width="1" height="4"/>
<rect x="898" y="570" width="1" height="4"/>
</g>
<text x="1.5" y="582.5" font-size="10.0" fill="#000" text-anchor="start" textLength="46.3" lengthAdjust="spacingAndGlyphs">11 Jul 2021</text>
<text x="65.5" y="582.5" font-size="10.0" fill="#000" text-anchor="start" textLength="47.0" lengthAdjust="spacingAndGlyphs">29 Jul 2021</text>
<text x="129.5" y="582.5" font-size="10.0" fill="#000" text-anchor="start" textLength="51.0" lengthAdjust="spacingAndGlyphs">17 Aug 2021</text>
<text x="193.5" y="582.5" font-size="10.0" fill="#000" text-anchor="start" textLength="46.5" lengthAdjust="spacingAndGlyphs">5 Sep 2021</text>
<text x="257.5" y="582.5" font-size="10.0" fill="#000" text-anchor="start" textLength="51.5" lengthAdjust="spacingAndGlyphs">23 Sep 2021</text>
<text x="321.5" y="582.5" font-size="10.0" fill="#000" text-anchor="start" textLength="49.5" lengthAdjust="spacingAndGlyphs">12 Oct 2021</text>
<text x="385.5" y="582.5" font-size="10.0" fill="#000" text-anchor="start" textLength="49.5" lengthAdjust="spacingAndGlyphs">31 Oct 2021</text>
<text x="449.5" y="582.5" font-size="10.0" fill="#000" text-anchor="start" textLength="51.5" lengthAdjust="spacingAndGlyphs">18 Nov 2021</text>
<text x="513.5" y="582.5" font-size="10.0" fill="#000" text-anchor="start" textLength="46.5" lengthAdjust="spacingAndGlyphs">7 Dec 2021</text>
<text x="577.5" y="582.5" font-size="10.0" fill="#000" text-anchor="start" textLength="51.5" lengthAdjust="spacingAndGlyphs">26 Dec 2021</text>
<text x="641.5" y="582.5" font-size="10.0" fill="#000" text-anchor="start" textLength="50.0" lengthAdjust="spacingAndGlyphs">13 Jan 2022</text>
<text x="705.5" y="582.5" font-size="10.0" fill="#000" text-anchor="start" textLength="46.0" lengthAdjust="spacingAndGlyphs">1 Feb 2022</text>
<text x="769.5" y="582.5" font-size="10.0" fill="#000" text-anchor="start" textLength="51.0" lengthAdjust="spacingAndGlyphs">20 Feb 2022</text>
<text x="833.5" y="582.5" font-size="10.0" fill="#000" text-anchor="start" textLength="51.0" lengthAdjust="spacingAndGlyphs">10 Mar 2022</text>
<text x="897.5" y="582.5" font-size="10.0" fill="#000" text-anchor="start" textLength="51.0" lengthAdjust="spacingAndGlyphs">29 Mar 2022</text>
<g shape-rendering="crispEdges">
<rect x="0" y="590" width="1205" height="1" fill="#e3e3e3"/>
<rect x="0" y="592" width="1205" height="1" fill="#000"/>
<rect x="0" y="593" width="1205" height="1" fill="#fafafa"/>
<rect x="0" y="594" width="1205" height="17" fill="#f0f0f0"/>
<rect x="0" y="611" width="1205" height="2" fill="#fdfdfd"/>
<rect x="0" y="613" width="1205" height="2" fill="#f0f0f0"/>
<rect x="427" y="592" width="108" height="19" fill="#000"/>
<rect x="428" y="591" width="106" height="19" fill="#fff"/>
<rect x="103" y="595" width="1" height="14" fill="#5a5a5a"/>
<rect x="211" y="595" width="1" height="14" fill="#5a5a5a"/>
<rect x="319" y="595" width="1" height="14" fill="#5a5a5a"/>
<rect x="647" y="595" width="1" height="14" fill="#5a5a5a"/>
<rect x="743" y="595" width="1" height="14" fill="#5a5a5a"/>
<rect x="835" y="595" width="1" height="14" fill="#5a5a5a"/>
<rect x="923" y="595" width="1" height="14" fill="#5a5a5a"/>
<rect x="1007" y="595" width="1" height="14" fill="#5a5a5a"/>
<rect x="1087" y="595" width="1" height="14" fill="#5a5a5a"/>
<rect x="1163" y="595" width="1" height="14" fill="#5a5a5a"/>
</g>
<text x="14" y="607" font-size="13" fill="#6a6a6a" text-anchor="start" textLength="78" lengthAdjust="spacingAndGlyphs">USDX,Weekly</text>
<text x="114.5" y="607" font-size="13" fill="#6a6a6a" text-anchor="start" textLength="84.5" lengthAdjust="spacingAndGlyphs">EURUSD-,Daily</text>
<text x="221.4" y="607" font-size="13" fill="#6a6a6a" text-anchor="start" textLength="86.6" lengthAdjust="spacingAndGlyphs">AUDUSD-,Daily</text>
<text x="331.3" y="607" font-size="13" fill="#6a6a6a" text-anchor="start" textLength="84" lengthAdjust="spacingAndGlyphs">USDCHF-,Daily</text>
<text x="547" y="607" font-size="13" fill="#6a6a6a" text-anchor="start" textLength="88" lengthAdjust="spacingAndGlyphs">USDCNH-,Daily</text>
<text x="658.3" y="607" font-size="13" fill="#6a6a6a" text-anchor="start" textLength="73" lengthAdjust="spacingAndGlyphs">XAUUSD-,H4</text>
<text x="754.5" y="607" font-size="13" fill="#6a6a6a" text-anchor="start" textLength="68.5" lengthAdjust="spacingAndGlyphs">UKOil-,Daily</text>
<text x="847" y="607" font-size="13" fill="#6a6a6a" text-anchor="start" textLength="64" lengthAdjust="spacingAndGlyphs">DJ30-,Daily</text>
<text x="934.5" y="607" font-size="13" fill="#6a6a6a" text-anchor="start" textLength="61" lengthAdjust="spacingAndGlyphs">UK100-,H1</text>
<text x="1019.2" y="607" font-size="13" fill="#6a6a6a" text-anchor="start" textLength="56" lengthAdjust="spacingAndGlyphs">USOil-,H1</text>
<text x="1098.3" y="607" font-size="13" fill="#6a6a6a" text-anchor="start" textLength="53.7" lengthAdjust="spacingAndGlyphs">HK50-,H1</text>
<text x="438.8" y="607" font-size="13" fill="#000" text-anchor="start" textLength="85.7" lengthAdjust="spacingAndGlyphs">USDCAD-,Daily</text>
<path d="M1183.5 597.5 L1183.5 604.5 L1180 601 Z" fill="#a0a0a0"/>
<path d="M1198.5 597 L1198.5 605 L1202.5 601 Z" fill="#000"/>
</svg></body></html>
